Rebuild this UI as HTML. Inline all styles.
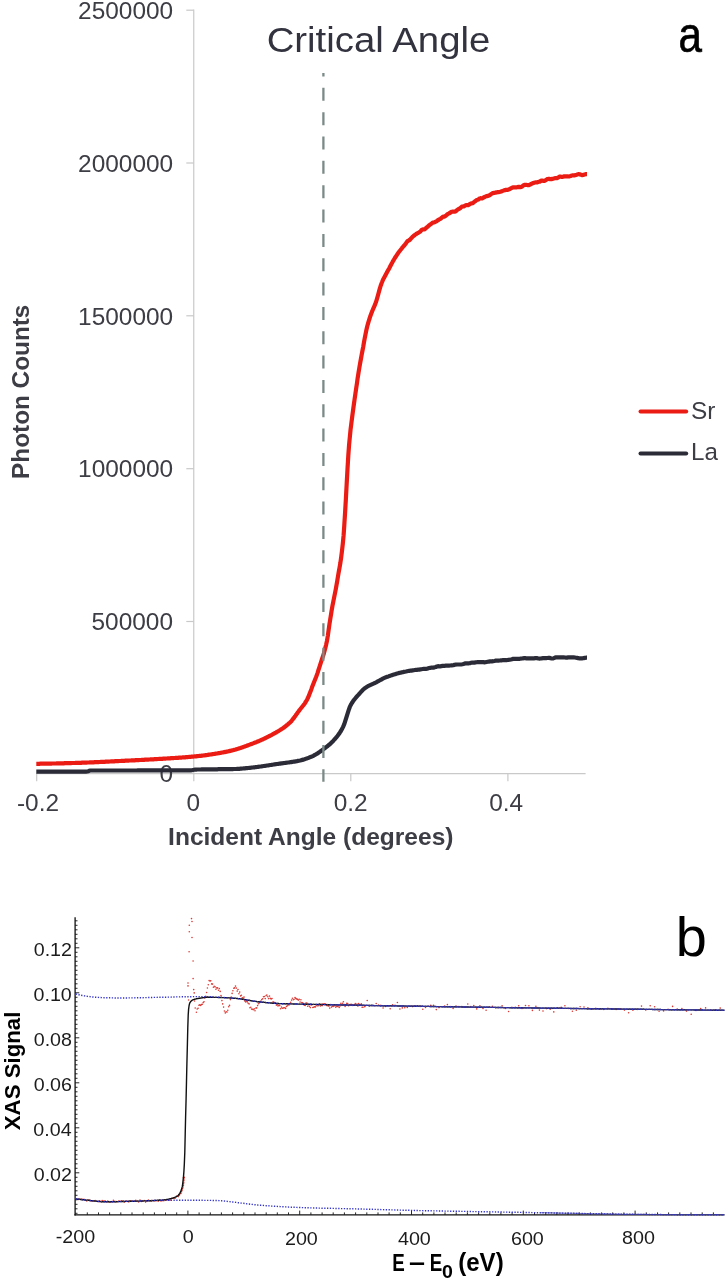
<!DOCTYPE html>
<html lang="en">
<head>
<meta charset="utf-8">
<title>Critical Angle and XAS Signal</title>
<style>
html,body{margin:0;padding:0;background:#fff;}
body{width:728px;height:1280px;overflow:hidden;font-family:"Liberation Sans",sans-serif;}
svg{display:block;}
</style>
</head>
<body>
<svg width="728" height="1280" viewBox="0 0 728 1280">
<rect width="728" height="1280" fill="#fff"/>
<g id="chart-a">
<g stroke="#c9c9c9" stroke-width="1.2" fill="none">
<path d="M193.75 9.6 V773.6"/>
<path d="M36.1 773.6 H585.6"/>
<path d="M186.3 621.5 H193.75"/>
<path d="M186.3 468.7 H193.75"/>
<path d="M186.3 315.8 H193.75"/>
<path d="M186.3 163.0 H193.75"/>
<path d="M186.3 10.2 H193.75"/>
<path d="M36.7 773.6 V781.3"/>
<path d="M193.8 773.6 V781.3"/>
<path d="M350.8 773.6 V781.3"/>
<path d="M507.9 773.6 V781.3"/>
</g>
<g font-family="Liberation Sans, sans-serif">
<text transform="translate(159.40 782.21) scale(1.0260 1)" font-size="23.80" fill="#3d3d45">0</text>
<text transform="translate(91.51 630.19) scale(1.0260 1)" font-size="23.80" fill="#3d3d45">500000</text>
<text transform="translate(78.08 477.37) scale(1.0260 1)" font-size="23.80" fill="#3d3d45">1000000</text>
<text transform="translate(78.08 324.55) scale(1.0260 1)" font-size="23.80" fill="#3d3d45">1500000</text>
<text transform="translate(78.08 171.73) scale(1.0260 1)" font-size="23.80" fill="#3d3d45">2000000</text>
<text transform="translate(78.08 18.91) scale(1.0260 1)" font-size="23.80" fill="#3d3d45">2500000</text>
<text transform="translate(16.92 811.16) scale(1.0260 1)" font-size="23.80" fill="#3d3d45">-0.2</text>
<text transform="translate(186.61 811.16) scale(1.0260 1)" font-size="23.80" fill="#3d3d45">0</text>
<text transform="translate(333.66 811.16) scale(1.0260 1)" font-size="23.80" fill="#3d3d45">0.2</text>
<text transform="translate(489.18 811.16) scale(1.0260 1)" font-size="23.80" fill="#3d3d45">0.4</text>
</g>
<path d="M36.3 771.7 L37.4 771.7 L38.5 771.7 L39.6 771.7 L40.7 771.7 L41.8 771.7 L42.9 771.7 L44.0 771.7 L45.1 771.7 L46.2 771.7 L47.3 771.7 L48.4 771.7 L49.5 771.7 L50.6 771.7 L51.8 771.7 L52.9 771.7 L54.0 771.7 L55.1 771.7 L56.2 771.7 L57.3 771.7 L58.4 771.7 L59.5 771.7 L60.6 771.7 L61.7 771.7 L62.8 771.7 L63.9 771.7 L65.0 771.7 L66.1 771.7 L67.2 771.7 L68.3 771.7 L69.4 771.7 L70.5 771.7 L71.6 771.7 L72.7 771.7 L73.8 771.7 L74.9 771.6 L76.0 771.6 L77.1 771.6 L78.2 771.6 L79.3 771.6 L80.4 771.6 L81.5 771.6 L82.7 771.6 L83.8 771.6 L84.9 771.6 L86.0 771.6 L87.1 771.5 L88.2 771.2 L89.3 770.8 L90.4 770.5 L91.5 770.5 L92.6 770.5 L93.7 770.5 L94.8 770.5 L95.9 770.5 L97.0 770.5 L98.1 770.5 L99.2 770.5 L100.3 770.5 L101.4 770.5 L102.5 770.5 L103.6 770.5 L104.7 770.5 L105.8 770.5 L106.9 770.5 L108.0 770.5 L109.1 770.5 L110.2 770.5 L111.3 770.5 L112.4 770.5 L113.6 770.5 L114.7 770.5 L115.8 770.5 L116.9 770.5 L118.0 770.5 L119.1 770.5 L120.2 770.5 L121.3 770.5 L122.4 770.5 L123.5 770.5 L124.6 770.5 L125.7 770.5 L126.8 770.5 L127.9 770.5 L129.0 770.5 L130.1 770.5 L131.2 770.5 L132.3 770.5 L133.4 770.5 L134.5 770.5 L135.6 770.5 L136.7 770.5 L137.8 770.4 L138.9 770.4 L140.0 770.4 L141.1 770.4 L142.2 770.4 L143.3 770.4 L144.5 770.4 L145.6 770.4 L146.7 770.4 L147.8 770.4 L148.9 770.4 L150.0 770.4 L151.1 770.4 L152.2 770.4 L153.3 770.4 L154.4 770.4 L155.5 770.4 L156.6 770.4 L157.7 770.4 L158.8 770.4 L159.9 770.4 L161.0 770.4 L162.1 770.4 L163.2 770.4 L164.3 770.4 L165.4 770.4 L166.5 770.4 L167.6 770.4 L168.7 770.4 L169.8 770.4 L170.9 770.4 L172.0 770.4 L173.1 770.4 L174.3 770.4 L175.4 770.4 L176.5 770.4 L177.6 770.4 L178.7 770.4 L179.8 770.4 L180.9 770.4 L182.0 770.4 L183.1 770.4 L184.2 770.4 L185.3 770.4 L186.4 770.4 L187.5 770.4 L188.6 770.4 L189.7 770.4 L190.8 770.4 L191.9 770.2 L193.0 770.0 L194.1 769.8 L195.2 769.6 L196.3 769.6 L197.4 769.5 L198.5 769.5 L199.6 769.5 L200.7 769.5 L201.8 769.4 L202.9 769.4 L204.0 769.4 L205.2 769.4 L206.3 769.4 L207.4 769.3 L208.5 769.3 L209.6 769.3 L210.7 769.3 L211.8 769.3 L212.9 769.3 L214.0 769.3 L215.1 769.3 L216.2 769.3 L217.3 769.3 L218.4 769.2 L219.5 769.2 L220.6 769.2 L221.7 769.2 L222.8 769.2 L223.9 769.2 L225.0 769.2 L226.1 769.2 L227.2 769.2 L228.3 769.1 L229.4 769.1 L230.5 769.1 L231.6 769.1 L232.7 769.1 L233.8 769.0 L234.9 769.0 L236.1 769.0 L237.2 768.9 L238.3 768.9 L239.4 768.8 L240.5 768.7 L241.6 768.6 L242.7 768.5 L243.8 768.4 L244.9 768.3 L246.0 768.2 L247.1 768.1 L248.2 768.0 L249.3 767.9 L250.4 767.8 L251.5 767.6 L252.6 767.5 L253.7 767.4 L254.8 767.3 L255.9 767.1 L257.0 767.0 L258.1 766.8 L259.2 766.7 L260.3 766.5 L261.4 766.4 L262.5 766.2 L263.6 766.0 L264.7 765.9 L265.9 765.7 L267.0 765.5 L268.1 765.4 L269.2 765.2 L270.3 765.0 L271.4 764.9 L272.5 764.7 L273.6 764.5 L274.7 764.3 L275.8 764.2 L276.9 764.0 L278.0 763.9 L279.1 763.7 L280.2 763.6 L281.3 763.4 L282.4 763.3 L283.5 763.1 L284.6 763.0 L285.7 762.8 L286.8 762.7 L287.9 762.5 L289.0 762.4 L290.1 762.2 L291.2 762.1 L292.3 761.9 L293.4 761.7 L294.5 761.6 L295.6 761.4 L296.8 761.2 L297.9 760.9 L299.0 760.7 L300.1 760.5 L301.2 760.2 L302.3 759.9 L303.4 759.6 L304.5 759.3 L305.6 758.9 L306.7 758.5 L307.8 758.1 L308.9 757.7 L310.0 757.2 L311.1 756.8 L312.2 756.3 L313.3 755.8 L314.4 755.2 L315.5 754.6 L316.6 753.9 L317.7 753.3 L318.8 752.5 L319.9 751.8 L321.0 751.0 L322.1 750.2 L323.2 749.4 L324.3 748.6 L325.4 747.7 L326.5 746.9 L327.7 746.0 L328.8 745.0 L329.9 744.1 L331.0 743.1 L332.1 742.0 L333.2 740.9 L334.3 739.7 L335.4 738.5 L336.5 737.2 L337.6 735.8 L338.7 734.3 L339.8 732.7 L340.9 731.0 L342.0 729.0 L343.1 726.9 L344.2 724.3 L345.3 720.9 L346.4 717.3 L347.5 713.9 L348.6 710.4 L349.7 707.2 L350.8 704.9 L351.9 703.0 L353.0 701.3 L354.1 699.8 L355.2 698.5 L356.3 697.2 L357.4 695.9 L358.6 694.6 L359.7 693.3 L360.8 692.1 L361.9 690.9 L363.0 689.8 L364.1 688.8 L365.2 687.9 L366.3 687.2 L367.4 686.5 L368.5 685.9 L369.6 685.4 L370.7 684.9 L371.8 684.4 L372.9 683.9 L374.0 683.4 L375.1 682.8 L376.2 682.3 L377.3 681.7 L378.4 681.1 L379.5 680.5 L380.6 679.9 L381.7 679.3 L382.8 678.7 L383.9 678.2 L385.0 677.7 L386.1 677.2 L387.2 676.8 L388.4 676.4 L389.5 676.0 L390.6 675.6 L391.7 675.2 L392.8 674.9 L393.9 674.5 L395.0 674.2 L396.1 673.9 L397.2 673.5 L398.3 673.2 L399.4 672.9 L400.5 672.7 L401.6 672.4 L402.7 672.2 L403.8 671.9 L404.9 671.7 L406.0 671.5 L407.1 671.2 L408.2 671.0 L409.3 670.8 L410.4 670.7 L411.5 670.6 L412.6 670.4 L413.7 670.2 L414.8 670.0 L415.9 669.9 L417.0 669.8 L418.1 669.7 L419.3 669.6 L420.4 669.4 L421.5 669.2 L422.6 669.0 L423.7 668.9 L424.8 668.9 L425.9 668.9 L427.0 668.7 L428.1 668.4 L429.2 668.0 L430.3 667.8 L431.4 667.7 L432.5 667.7 L433.6 667.6 L434.7 667.3 L435.8 667.0 L436.9 666.5 L438.0 666.2 L439.1 666.3 L440.2 666.3 L441.3 666.2 L442.4 665.9 L443.5 665.8 L444.6 665.8 L445.7 665.7 L446.8 665.6 L447.9 665.6 L449.0 665.6 L450.2 665.5 L451.3 665.4 L452.4 665.3 L453.5 665.1 L454.6 664.8 L455.7 664.6 L456.8 664.5 L457.9 664.5 L459.0 664.5 L460.1 664.5 L461.2 664.5 L462.3 664.3 L463.4 664.0 L464.5 663.6 L465.6 663.3 L466.7 663.3 L467.8 663.4 L468.9 663.3 L470.0 663.1 L471.1 662.8 L472.2 662.6 L473.3 662.6 L474.4 662.6 L475.5 662.4 L476.6 662.2 L477.7 662.0 L478.8 662.1 L480.0 662.2 L481.1 662.2 L482.2 662.2 L483.3 662.2 L484.4 662.3 L485.5 662.2 L486.6 662.0 L487.7 661.8 L488.8 661.6 L489.9 661.4 L491.0 661.3 L492.1 661.3 L493.2 661.2 L494.3 661.0 L495.4 660.7 L496.5 660.6 L497.6 660.6 L498.7 660.6 L499.8 660.5 L500.9 660.4 L502.0 660.3 L503.1 660.1 L504.2 660.1 L505.3 660.2 L506.4 660.2 L507.5 660.0 L508.6 659.8 L509.7 659.7 L510.9 659.5 L512.0 659.2 L513.1 658.9 L514.2 658.8 L515.3 658.8 L516.4 658.9 L517.5 658.9 L518.6 658.9 L519.7 658.8 L520.8 658.6 L521.9 658.5 L523.0 658.3 L524.1 658.2 L525.2 658.2 L526.3 658.3 L527.4 658.3 L528.5 658.3 L529.6 658.3 L530.7 658.4 L531.8 658.4 L532.9 658.4 L534.0 658.3 L535.1 658.2 L536.2 658.1 L537.3 658.2 L538.4 658.5 L539.5 658.6 L540.6 658.5 L541.8 658.3 L542.9 658.2 L544.0 658.2 L545.1 658.2 L546.2 658.1 L547.3 658.0 L548.4 657.9 L549.5 657.9 L550.6 658.2 L551.7 658.5 L552.8 658.5 L553.9 658.1 L555.0 657.6 L556.1 657.3 L557.2 657.3 L558.3 657.4 L559.4 657.4 L560.5 657.4 L561.6 657.3 L562.7 657.3 L563.8 657.4 L564.9 657.5 L566.0 657.6 L567.1 657.6 L568.2 657.4 L569.3 657.3 L570.4 657.3 L571.5 657.4 L572.7 657.3 L573.8 657.4 L574.9 657.5 L576.0 657.7 L577.1 657.9 L578.2 658.2 L579.3 658.3 L580.4 658.4 L581.5 658.3 L582.6 658.3 L583.7 658.1 L584.8 657.9 L585.9 657.7 L587.0 657.7" fill="none" stroke="#2b2b38" stroke-width="4.2" stroke-linejoin="round" stroke-linecap="butt"/>
<path d="M36.3 763.8 L37.1 763.8 L37.9 763.8 L38.7 763.8 L39.5 763.8 L40.2 763.7 L41.0 763.7 L41.8 763.7 L42.6 763.7 L43.4 763.7 L44.2 763.7 L45.0 763.7 L45.8 763.7 L46.5 763.6 L47.3 763.6 L48.1 763.6 L48.9 763.6 L49.7 763.6 L50.5 763.6 L51.3 763.6 L52.1 763.5 L52.8 763.5 L53.6 763.5 L54.4 763.5 L55.2 763.5 L56.0 763.5 L56.8 763.4 L57.6 763.4 L58.4 763.4 L59.1 763.4 L59.9 763.4 L60.7 763.3 L61.5 763.3 L62.3 763.3 L63.1 763.3 L63.9 763.3 L64.7 763.2 L65.5 763.2 L66.2 763.2 L67.0 763.2 L67.8 763.2 L68.6 763.1 L69.4 763.1 L70.2 763.1 L71.0 763.1 L71.8 763.0 L72.5 763.0 L73.3 763.0 L74.1 763.0 L74.9 763.0 L75.7 762.9 L76.5 762.9 L77.3 762.9 L78.1 762.9 L78.8 762.8 L79.6 762.8 L80.4 762.8 L81.2 762.8 L82.0 762.7 L82.8 762.7 L83.6 762.7 L84.4 762.7 L85.1 762.6 L85.9 762.6 L86.7 762.6 L87.5 762.5 L88.3 762.5 L89.1 762.5 L89.9 762.4 L90.7 762.4 L91.4 762.4 L92.2 762.3 L93.0 762.3 L93.8 762.3 L94.6 762.2 L95.4 762.2 L96.2 762.2 L97.0 762.1 L97.8 762.1 L98.5 762.1 L99.3 762.0 L100.1 762.0 L100.9 761.9 L101.7 761.9 L102.5 761.9 L103.3 761.8 L104.1 761.8 L104.8 761.8 L105.6 761.7 L106.4 761.7 L107.2 761.6 L108.0 761.6 L108.8 761.6 L109.6 761.5 L110.4 761.5 L111.1 761.4 L111.9 761.4 L112.7 761.4 L113.5 761.3 L114.3 761.3 L115.1 761.2 L115.9 761.2 L116.7 761.2 L117.4 761.1 L118.2 761.1 L119.0 761.0 L119.8 761.0 L120.6 761.0 L121.4 760.9 L122.2 760.9 L123.0 760.9 L123.8 760.8 L124.5 760.8 L125.3 760.7 L126.1 760.7 L126.9 760.7 L127.7 760.6 L128.5 760.6 L129.3 760.5 L130.1 760.5 L130.8 760.5 L131.6 760.4 L132.4 760.4 L133.2 760.4 L134.0 760.3 L134.8 760.3 L135.6 760.2 L136.4 760.2 L137.1 760.2 L137.9 760.1 L138.7 760.1 L139.5 760.0 L140.3 760.0 L141.1 760.0 L141.9 759.9 L142.7 759.9 L143.4 759.8 L144.2 759.8 L145.0 759.7 L145.8 759.7 L146.6 759.7 L147.4 759.6 L148.2 759.6 L149.0 759.5 L149.7 759.5 L150.5 759.4 L151.3 759.4 L152.1 759.4 L152.9 759.3 L153.7 759.3 L154.5 759.2 L155.3 759.2 L156.1 759.1 L156.8 759.1 L157.6 759.0 L158.4 759.0 L159.2 758.9 L160.0 758.9 L160.8 758.9 L161.6 758.8 L162.4 758.8 L163.1 758.7 L163.9 758.7 L164.7 758.6 L165.5 758.6 L166.3 758.5 L167.1 758.5 L167.9 758.4 L168.7 758.4 L169.4 758.3 L170.2 758.3 L171.0 758.2 L171.8 758.2 L172.6 758.1 L173.4 758.1 L174.2 758.0 L175.0 758.0 L175.7 757.9 L176.5 757.9 L177.3 757.8 L178.1 757.8 L178.9 757.7 L179.7 757.7 L180.5 757.6 L181.3 757.6 L182.1 757.5 L182.8 757.4 L183.6 757.4 L184.4 757.3 L185.2 757.3 L186.0 757.2 L186.8 757.1 L187.6 757.1 L188.4 757.0 L189.1 756.9 L189.9 756.9 L190.7 756.8 L191.5 756.7 L192.3 756.7 L193.1 756.6 L193.9 756.5 L194.7 756.4 L195.4 756.4 L196.2 756.3 L197.0 756.2 L197.8 756.1 L198.6 756.0 L199.4 755.9 L200.2 755.8 L201.0 755.8 L201.7 755.7 L202.5 755.6 L203.3 755.5 L204.1 755.4 L204.9 755.3 L205.7 755.2 L206.5 755.1 L207.3 755.0 L208.0 754.8 L208.8 754.7 L209.6 754.6 L210.4 754.5 L211.2 754.4 L212.0 754.3 L212.8 754.1 L213.6 754.0 L214.4 753.9 L215.1 753.8 L215.9 753.6 L216.7 753.5 L217.5 753.4 L218.3 753.2 L219.1 753.1 L219.9 753.0 L220.7 752.8 L221.4 752.7 L222.2 752.5 L223.0 752.4 L223.8 752.2 L224.6 752.1 L225.4 751.9 L226.2 751.8 L227.0 751.6 L227.7 751.5 L228.5 751.3 L229.3 751.1 L230.1 750.9 L230.9 750.7 L231.7 750.6 L232.5 750.3 L233.3 750.1 L234.0 749.9 L234.8 749.7 L235.6 749.5 L236.4 749.2 L237.2 749.0 L238.0 748.8 L238.8 748.5 L239.6 748.2 L240.4 748.0 L241.1 747.7 L241.9 747.5 L242.7 747.2 L243.5 746.9 L244.3 746.6 L245.1 746.4 L245.9 746.1 L246.7 745.8 L247.4 745.5 L248.2 745.2 L249.0 744.9 L249.8 744.6 L250.6 744.3 L251.4 744.0 L252.2 743.7 L253.0 743.4 L253.7 743.1 L254.5 742.8 L255.3 742.5 L256.1 742.2 L256.9 741.9 L257.7 741.5 L258.5 741.2 L259.3 740.9 L260.0 740.5 L260.8 740.2 L261.6 739.8 L262.4 739.5 L263.2 739.1 L264.0 738.8 L264.8 738.4 L265.6 738.0 L266.3 737.6 L267.1 737.2 L267.9 736.8 L268.7 736.4 L269.5 736.0 L270.3 735.6 L271.1 735.2 L271.9 734.8 L272.7 734.3 L273.4 733.9 L274.2 733.5 L275.0 733.0 L275.8 732.6 L276.6 732.1 L277.4 731.7 L278.2 731.2 L279.0 730.7 L279.7 730.3 L280.5 729.8 L281.3 729.2 L282.1 728.7 L282.9 728.2 L283.7 727.6 L284.5 727.1 L285.3 726.5 L286.0 725.9 L286.8 725.2 L287.6 724.6 L288.4 723.9 L289.2 723.2 L290.0 722.5 L290.8 721.7 L291.6 720.9 L292.3 719.9 L293.1 718.9 L293.9 717.9 L294.7 716.8 L295.5 715.7 L296.3 714.5 L297.1 713.4 L297.9 712.3 L298.7 711.3 L299.4 710.3 L300.2 709.3 L301.0 708.3 L301.8 707.3 L302.6 706.3 L303.4 705.3 L304.2 704.3 L305.0 703.1 L305.7 701.9 L306.5 700.6 L307.3 699.2 L308.1 697.5 L308.9 695.7 L309.7 693.6 L310.5 691.5 L311.3 689.4 L312.0 687.3 L312.8 685.3 L313.6 683.3 L314.4 681.3 L315.2 679.3 L316.0 677.3 L316.8 675.1 L317.6 672.9 L318.3 670.5 L319.1 668.1 L319.9 665.6 L320.7 663.1 L321.5 660.6 L322.3 658.2 L323.1 655.8 L323.9 653.3 L324.6 650.6 L325.4 647.6 L326.2 644.4 L327.0 640.7 L327.8 636.0 L328.6 630.2 L329.4 624.5 L330.2 619.5 L331.0 614.7 L331.7 610.1 L332.5 605.7 L333.3 601.6 L334.1 597.6 L334.9 593.7 L335.7 589.6 L336.5 585.2 L337.3 580.7 L338.0 576.2 L338.8 571.7 L339.6 567.3 L340.4 562.7 L341.2 557.1 L342.0 550.8 L342.8 543.7 L343.6 535.4 L344.3 525.2 L345.1 512.4 L345.9 498.6 L346.7 483.5 L347.5 469.2 L348.3 455.7 L349.1 444.7 L349.9 436.4 L350.6 429.3 L351.4 422.9 L352.2 416.8 L353.0 410.8 L353.8 404.9 L354.6 399.2 L355.4 393.7 L356.2 388.3 L357.0 383.0 L357.7 377.8 L358.5 372.8 L359.3 368.0 L360.1 363.4 L360.9 359.0 L361.7 354.7 L362.5 350.5 L363.3 346.4 L364.0 342.2 L364.8 337.9 L365.6 333.8 L366.4 329.9 L367.2 326.5 L368.0 323.6 L368.8 320.9 L369.6 318.5 L370.3 316.2 L371.1 314.0 L371.9 311.9 L372.7 310.0 L373.5 308.1 L374.3 306.3 L375.1 304.4 L375.9 302.3 L376.6 300.1 L377.4 297.4 L378.2 294.5 L379.0 291.5 L379.8 288.6 L380.6 286.0 L381.4 283.7 L382.2 281.8 L382.9 280.0 L383.7 278.4 L384.5 276.9 L385.3 275.4 L386.1 273.9 L386.9 272.4 L387.7 271.0 L388.5 269.6 L389.3 268.2 L390.0 266.8 L390.8 265.2 L391.6 263.7 L392.4 262.3 L393.2 260.8 L394.0 259.5 L394.8 258.2 L395.6 256.9 L396.3 255.8 L397.1 254.6 L397.9 253.4 L398.7 252.3 L399.5 251.3 L400.3 250.3 L401.1 249.3 L401.9 248.3 L402.6 247.3 L403.4 246.4 L404.2 245.5 L405.0 244.6 L405.8 243.5 L406.6 242.3 L407.4 241.3 L408.2 240.7 L408.9 240.4 L409.7 239.9 L410.5 239.1 L411.3 238.2 L412.1 237.3 L412.9 236.5 L413.7 235.8 L414.5 235.2 L415.3 234.6 L416.0 234.1 L416.8 233.6 L417.6 233.2 L418.4 232.7 L419.2 232.2 L420.0 231.7 L420.8 230.9 L421.6 230.0 L422.3 229.5 L423.1 229.4 L423.9 229.4 L424.7 229.2 L425.5 228.6 L426.3 227.8 L427.1 227.1 L427.9 226.5 L428.6 225.9 L429.4 225.1 L430.2 224.5 L431.0 224.0 L431.8 223.4 L432.6 222.8 L433.4 222.5 L434.2 222.4 L434.9 222.1 L435.7 221.7 L436.5 221.2 L437.3 220.6 L438.1 220.1 L438.9 219.6 L439.7 219.2 L440.5 218.8 L441.2 218.3 L442.0 217.5 L442.8 216.8 L443.6 216.6 L444.4 216.6 L445.2 216.2 L446.0 215.5 L446.8 214.8 L447.6 214.1 L448.3 213.7 L449.1 213.4 L449.9 212.9 L450.7 212.4 L451.5 211.9 L452.3 211.7 L453.1 211.7 L453.9 211.7 L454.6 211.6 L455.4 211.4 L456.2 210.9 L457.0 210.2 L457.8 209.5 L458.6 209.0 L459.4 208.7 L460.2 208.2 L460.9 207.5 L461.7 206.8 L462.5 206.5 L463.3 206.4 L464.1 206.3 L464.9 205.8 L465.7 205.3 L466.5 205.1 L467.2 205.1 L468.0 205.2 L468.8 204.9 L469.6 204.3 L470.4 203.7 L471.2 203.4 L472.0 203.3 L472.8 203.1 L473.6 202.5 L474.3 201.9 L475.1 201.3 L475.9 200.6 L476.7 200.0 L477.5 199.8 L478.3 199.5 L479.1 198.9 L479.9 198.4 L480.6 198.2 L481.4 198.3 L482.2 198.3 L483.0 197.9 L483.8 197.4 L484.6 197.0 L485.4 196.6 L486.2 196.3 L486.9 196.1 L487.7 195.9 L488.5 195.7 L489.3 195.4 L490.1 194.9 L490.9 194.3 L491.7 193.8 L492.5 193.3 L493.2 193.0 L494.0 192.9 L494.8 192.8 L495.6 192.6 L496.4 192.4 L497.2 192.3 L498.0 192.1 L498.8 192.1 L499.5 192.0 L500.3 191.8 L501.1 191.5 L501.9 191.2 L502.7 190.9 L503.5 190.6 L504.3 190.3 L505.1 190.1 L505.9 189.9 L506.6 189.8 L507.4 189.8 L508.2 189.7 L509.0 189.4 L509.8 189.0 L510.6 188.5 L511.4 188.1 L512.2 187.7 L512.9 187.4 L513.7 187.3 L514.5 187.3 L515.3 187.4 L516.1 187.5 L516.9 187.3 L517.7 187.1 L518.5 186.9 L519.2 186.9 L520.0 187.1 L520.8 187.1 L521.6 186.8 L522.4 186.2 L523.2 185.5 L524.0 185.1 L524.8 184.9 L525.5 184.9 L526.3 184.9 L527.1 185.0 L527.9 185.2 L528.7 185.2 L529.5 184.9 L530.3 184.5 L531.1 184.0 L531.9 183.6 L532.6 183.3 L533.4 183.0 L534.2 182.7 L535.0 182.5 L535.8 182.4 L536.6 182.4 L537.4 182.3 L538.2 182.0 L538.9 181.8 L539.7 181.6 L540.5 181.1 L541.3 180.6 L542.1 180.6 L542.9 180.8 L543.7 180.9 L544.5 180.8 L545.2 180.5 L546.0 180.0 L546.8 179.4 L547.6 179.0 L548.4 178.9 L549.2 178.9 L550.0 179.1 L550.8 179.2 L551.5 179.1 L552.3 178.9 L553.1 178.7 L553.9 178.5 L554.7 178.3 L555.5 178.1 L556.3 178.1 L557.1 178.1 L557.8 177.8 L558.6 177.3 L559.4 176.7 L560.2 176.6 L561.0 176.8 L561.8 177.0 L562.6 176.9 L563.4 176.6 L564.2 176.4 L564.9 176.4 L565.7 176.3 L566.5 176.3 L567.3 176.3 L568.1 176.5 L568.9 176.5 L569.7 176.2 L570.5 176.0 L571.2 175.7 L572.0 175.5 L572.8 175.3 L573.6 175.3 L574.4 175.3 L575.2 175.2 L576.0 175.0 L576.8 174.8 L577.5 174.4 L578.3 174.1 L579.1 174.2 L579.9 174.4 L580.7 174.6 L581.5 174.9 L582.3 175.1 L583.1 175.0 L583.8 174.8 L584.6 174.5 L585.4 174.3 L586.2 174.1 L587.0 174.1" fill="none" stroke="#ea1c14" stroke-width="4.2" stroke-linejoin="round" stroke-linecap="butt"/>
<path d="M323.4 73 V781.7" fill="none" stroke="#7b8a87" stroke-width="2.3" stroke-dasharray="13 11.34" stroke-dashoffset="9.5"/>
<g font-family="Liberation Sans, sans-serif">
<text transform="translate(266.68 51.88) scale(1.0852 1)" font-size="35.32" fill="#33333f">Critical Angle</text>
<text transform="translate(678.52 52.30) scale(0.8393 1)" font-size="50.18" fill="#000" stroke="#000" stroke-width="0.7">a</text>
<text transform="translate(691.08 418.67) scale(1.0440 1)" font-size="23.38" fill="#3d3d45">Sr</text>
<text transform="translate(691.07 460.27) scale(1.0382 1)" font-size="23.29" fill="#3d3d45">La</text>
<text transform="translate(28.66 478.90) rotate(-90) scale(1.0007 1)" font-size="24.32" font-weight="700" fill="#3d3d45">Photon Counts</text>
<text transform="translate(168.08 845.39) scale(1.0491 1)" font-size="23.40" font-weight="700" fill="#3d3d45">Incident Angle (degrees)</text>
</g>
<path d="M640.5 411.5 H686.2" stroke="#ea1c14" stroke-width="4" stroke-linecap="round"/>
<path d="M640.5 453.5 H686.2" stroke="#2b2b38" stroke-width="4" stroke-linecap="round"/>
</g>
<g id="chart-b">
<g stroke="#111" stroke-width="1.1" fill="none">
<path d="M75.1 917.3 V1215.45" stroke-width="1.3"/>
<path d="M74.39999999999999 1214.8 H724.5" stroke-width="1.3"/>
<path d="M75.1 1213.3 h2.4 M75.1 1208.8 h2.4 M75.1 1204.3 h2.4 M75.1 1199.8 h2.4 M75.1 1195.3 h2.4 M75.1 1190.8 h2.4 M75.1 1186.3 h2.4 M75.1 1181.8 h2.4 M75.1 1177.3 h2.4 M75.1 1172.8 h4.2 M75.1 1168.3 h2.4 M75.1 1163.8 h2.4 M75.1 1159.3 h2.4 M75.1 1154.8 h2.4 M75.1 1150.3 h2.4 M75.1 1145.8 h2.4 M75.1 1141.3 h2.4 M75.1 1136.8 h2.4 M75.1 1132.3 h2.4 M75.1 1127.8 h4.2 M75.1 1123.3 h2.4 M75.1 1118.8 h2.4 M75.1 1114.3 h2.4 M75.1 1109.8 h2.4 M75.1 1105.3 h2.4 M75.1 1100.8 h2.4 M75.1 1096.3 h2.4 M75.1 1091.8 h2.4 M75.1 1087.3 h2.4 M75.1 1082.8 h4.2 M75.1 1078.3 h2.4 M75.1 1073.8 h2.4 M75.1 1069.3 h2.4 M75.1 1064.8 h2.4 M75.1 1060.3 h2.4 M75.1 1055.8 h2.4 M75.1 1051.3 h2.4 M75.1 1046.8 h2.4 M75.1 1042.3 h2.4 M75.1 1037.8 h4.2 M75.1 1033.3 h2.4 M75.1 1028.8 h2.4 M75.1 1024.3 h2.4 M75.1 1019.8 h2.4 M75.1 1015.3 h2.4 M75.1 1010.8 h2.4 M75.1 1006.3 h2.4 M75.1 1001.8 h2.4 M75.1 997.3 h2.4 M75.1 992.8 h4.2 M75.1 988.3 h2.4 M75.1 983.8 h2.4 M75.1 979.3 h2.4 M75.1 974.8 h2.4 M75.1 970.3 h2.4 M75.1 965.8 h2.4 M75.1 961.3 h2.4 M75.1 956.8 h2.4 M75.1 952.3 h2.4 M75.1 947.8 h4.2 M75.1 943.3 h2.4 M75.1 938.8 h2.4 M75.1 934.3 h2.4 M75.1 929.8 h2.4 M75.1 925.3 h2.4 M75.1 920.8 h2.4" stroke-width="0.9"/>
<path d="M87.3 1214.8 v-2.4 M98.5 1214.8 v-2.4 M109.6 1214.8 v-2.4 M120.8 1214.8 v-2.4 M132.0 1214.8 v-2.4 M143.2 1214.8 v-2.4 M154.4 1214.8 v-2.4 M165.5 1214.8 v-2.4 M176.7 1214.8 v-2.4 M187.9 1214.8 v-4.2 M199.1 1214.8 v-2.4 M210.3 1214.8 v-2.4 M221.4 1214.8 v-2.4 M232.6 1214.8 v-2.4 M243.8 1214.8 v-2.4 M255.0 1214.8 v-2.4 M266.2 1214.8 v-2.4 M277.3 1214.8 v-2.4 M288.5 1214.8 v-2.4 M299.7 1214.8 v-4.2 M310.9 1214.8 v-2.4 M322.1 1214.8 v-2.4 M333.2 1214.8 v-2.4 M344.4 1214.8 v-2.4 M355.6 1214.8 v-2.4 M366.8 1214.8 v-2.4 M378.0 1214.8 v-2.4 M389.1 1214.8 v-2.4 M400.3 1214.8 v-2.4 M411.5 1214.8 v-4.2 M422.7 1214.8 v-2.4 M433.9 1214.8 v-2.4 M445.0 1214.8 v-2.4 M456.2 1214.8 v-2.4 M467.4 1214.8 v-2.4 M478.6 1214.8 v-2.4 M489.8 1214.8 v-2.4 M500.9 1214.8 v-2.4 M512.1 1214.8 v-2.4 M523.3 1214.8 v-4.2 M534.5 1214.8 v-2.4 M545.7 1214.8 v-2.4 M556.8 1214.8 v-2.4 M568.0 1214.8 v-2.4 M579.2 1214.8 v-2.4 M590.4 1214.8 v-2.4 M601.6 1214.8 v-2.4 M612.7 1214.8 v-2.4 M623.9 1214.8 v-2.4 M635.1 1214.8 v-4.2 M646.3 1214.8 v-2.4 M657.5 1214.8 v-2.4 M668.6 1214.8 v-2.4 M679.8 1214.8 v-2.4 M691.0 1214.8 v-2.4 M702.2 1214.8 v-2.4 M713.4 1214.8 v-2.4" stroke-width="0.9"/>
</g>
<g font-family="Liberation Sans, sans-serif">
<text transform="translate(33.71 1181.42) scale(1.0915 1)" font-size="18.03" fill="#1c1c1c">0.02</text>
<text transform="translate(33.32 1136.42) scale(1.0915 1)" font-size="18.03" fill="#1c1c1c">0.04</text>
<text transform="translate(33.71 1091.42) scale(1.0915 1)" font-size="18.03" fill="#1c1c1c">0.06</text>
<text transform="translate(33.71 1046.42) scale(1.0915 1)" font-size="18.03" fill="#1c1c1c">0.08</text>
<text transform="translate(33.52 1001.42) scale(1.0915 1)" font-size="18.03" fill="#1c1c1c">0.10</text>
<text transform="translate(33.71 956.42) scale(1.0915 1)" font-size="18.03" fill="#1c1c1c">0.12</text>
<text transform="translate(55.71 1243.12) scale(1.0949 1)" font-size="18.03" fill="#1c1c1c">-200</text>
<text transform="translate(182.67 1243.12) scale(1.0949 1)" font-size="18.03" fill="#1c1c1c">0</text>
<text transform="translate(284.92 1245.22) scale(1.0949 1)" font-size="18.03" fill="#1c1c1c">200</text>
<text transform="translate(397.91 1244.82) scale(1.0949 1)" font-size="18.03" fill="#1c1c1c">400</text>
<text transform="translate(510.92 1244.82) scale(1.0949 1)" font-size="18.03" fill="#1c1c1c">600</text>
<text transform="translate(622.12 1243.92) scale(1.0949 1)" font-size="18.03" fill="#1c1c1c">800</text>
<text transform="translate(20.26 1130.22) rotate(-90) scale(1.0302 1)" font-size="21.60" font-weight="700" fill="#000">XAS Signal</text>
<text transform="translate(392.19 1271.20) scale(0.7701 1)" font-size="24.35" font-weight="700" fill="#000">E</text>
<text transform="translate(408.94 1271.02) scale(1.1077 1)" font-size="26.00" font-weight="700" fill="#000">–</text>
<text transform="translate(429.69 1271.20) scale(0.7701 1)" font-size="24.35" font-weight="700" fill="#000">E</text>
<text transform="translate(442.12 1278.11) scale(1.0450 1)" font-size="18.73" font-weight="700" fill="#000">0</text>
<text transform="translate(458.20 1271.00) scale(0.9201 1)" font-size="26.17" font-weight="700" fill="#000">(eV)</text>
<text transform="translate(675.69 956.20) scale(1.0003 1)" font-size="55.89" fill="#000">b</text>
</g>
<g fill="#dd3b35">
<circle cx="77.0" cy="1199.1" r="0.8"/><circle cx="78.4" cy="1199.4" r="0.8"/><circle cx="79.8" cy="1199.2" r="0.8"/><circle cx="81.2" cy="1199.0" r="0.8"/><circle cx="82.6" cy="1199.4" r="0.8"/><circle cx="84.0" cy="1199.3" r="0.8"/><circle cx="85.4" cy="1200.1" r="0.8"/><circle cx="86.8" cy="1201.0" r="0.8"/><circle cx="88.2" cy="1200.0" r="0.8"/><circle cx="89.6" cy="1200.1" r="0.8"/><circle cx="91.0" cy="1200.9" r="0.8"/><circle cx="92.4" cy="1201.0" r="0.8"/><circle cx="93.8" cy="1201.0" r="0.8"/><circle cx="95.2" cy="1200.5" r="0.8"/><circle cx="96.6" cy="1201.2" r="0.8"/><circle cx="98.0" cy="1201.8" r="0.8"/><circle cx="99.4" cy="1200.7" r="0.8"/><circle cx="100.8" cy="1201.4" r="0.8"/><circle cx="102.2" cy="1200.6" r="0.8"/><circle cx="103.6" cy="1201.0" r="0.8"/><circle cx="105.0" cy="1200.7" r="0.8"/><circle cx="106.4" cy="1201.7" r="0.8"/><circle cx="107.8" cy="1201.0" r="0.8"/><circle cx="109.2" cy="1201.9" r="0.8"/><circle cx="110.6" cy="1201.9" r="0.8"/><circle cx="112.0" cy="1201.6" r="0.8"/><circle cx="113.4" cy="1200.2" r="0.8"/><circle cx="114.8" cy="1201.4" r="0.8"/><circle cx="116.2" cy="1201.6" r="0.8"/><circle cx="117.6" cy="1201.7" r="0.8"/><circle cx="119.0" cy="1200.7" r="0.8"/><circle cx="120.4" cy="1201.3" r="0.8"/><circle cx="121.8" cy="1200.9" r="0.8"/><circle cx="123.2" cy="1201.0" r="0.8"/><circle cx="124.6" cy="1202.1" r="0.8"/><circle cx="126.0" cy="1200.9" r="0.8"/><circle cx="127.4" cy="1201.4" r="0.8"/><circle cx="128.8" cy="1201.9" r="0.8"/><circle cx="130.2" cy="1200.9" r="0.8"/><circle cx="131.6" cy="1201.2" r="0.8"/><circle cx="133.0" cy="1201.3" r="0.8"/><circle cx="134.4" cy="1201.2" r="0.8"/><circle cx="135.8" cy="1200.4" r="0.8"/><circle cx="137.2" cy="1201.2" r="0.8"/><circle cx="138.6" cy="1201.9" r="0.8"/><circle cx="140.0" cy="1200.1" r="0.8"/><circle cx="141.4" cy="1201.5" r="0.8"/><circle cx="142.8" cy="1201.0" r="0.8"/><circle cx="144.2" cy="1200.5" r="0.8"/><circle cx="145.6" cy="1202.1" r="0.8"/><circle cx="147.0" cy="1201.3" r="0.8"/><circle cx="148.4" cy="1200.1" r="0.8"/><circle cx="149.8" cy="1200.8" r="0.8"/><circle cx="151.2" cy="1201.0" r="0.8"/><circle cx="152.6" cy="1200.5" r="0.8"/><circle cx="154.0" cy="1201.0" r="0.8"/><circle cx="155.4" cy="1200.4" r="0.8"/><circle cx="156.8" cy="1200.8" r="0.8"/><circle cx="158.2" cy="1201.2" r="0.8"/><circle cx="159.6" cy="1199.8" r="0.8"/><circle cx="161.0" cy="1201.1" r="0.8"/><circle cx="162.4" cy="1200.6" r="0.8"/><circle cx="163.8" cy="1200.8" r="0.8"/><circle cx="165.2" cy="1199.8" r="0.8"/><circle cx="166.6" cy="1200.0" r="0.8"/><circle cx="168.0" cy="1200.0" r="0.8"/><circle cx="169.4" cy="1200.3" r="0.8"/><circle cx="170.8" cy="1200.1" r="0.8"/><circle cx="172.2" cy="1198.3" r="0.8"/><circle cx="173.6" cy="1198.1" r="0.8"/><circle cx="175.0" cy="1198.5" r="0.8"/><circle cx="176.4" cy="1196.2" r="0.8"/><circle cx="177.8" cy="1196.2" r="0.8"/><circle cx="179.2" cy="1194.9" r="0.8"/><circle cx="180.6" cy="1193.4" r="0.8"/><circle cx="182.0" cy="1188.8" r="0.8"/><circle cx="183.4" cy="1177.8" r="0.8"/><circle cx="191.5" cy="918.6" r="0.8"/><circle cx="192.0" cy="921.5" r="0.8"/><circle cx="189.3" cy="925.2" r="0.8"/><circle cx="189.3" cy="931.8" r="0.8"/><circle cx="192.0" cy="937.5" r="0.8"/><circle cx="189.1" cy="951.8" r="0.8"/><circle cx="193.1" cy="961.0" r="0.8"/><circle cx="193.1" cy="978.6" r="0.8"/><circle cx="188.0" cy="983.0" r="0.8"/><circle cx="188.0" cy="985.9" r="0.8"/><circle cx="193.7" cy="989.6" r="0.8"/><circle cx="194.2" cy="992.9" r="0.8"/><circle cx="188.6" cy="1000.0" r="0.8"/><circle cx="194.6" cy="1001.0" r="0.8"/><circle cx="195.2" cy="1008.0" r="0.8"/><circle cx="178.3" cy="1196.6" r="0.8"/><circle cx="179.5" cy="1195.0" r="0.8"/><circle cx="180.8" cy="1193.4" r="0.8"/><circle cx="181.6" cy="1191.8" r="0.8"/><circle cx="182.1" cy="1190.2" r="0.8"/><circle cx="182.6" cy="1188.6" r="0.8"/><circle cx="183.1" cy="1187.0" r="0.8"/><circle cx="183.4" cy="1185.4" r="0.8"/><circle cx="183.6" cy="1183.8" r="0.8"/><circle cx="183.8" cy="1182.2" r="0.8"/><circle cx="183.9" cy="1180.6" r="0.8"/><circle cx="184.1" cy="1179.0" r="0.8"/><circle cx="184.3" cy="1177.4" r="0.8"/><circle cx="196.4" cy="1012.3" r="0.8"/><circle cx="197.2" cy="1009.0" r="0.8"/><circle cx="198.1" cy="1008.3" r="0.8"/><circle cx="198.9" cy="1005.2" r="0.8"/><circle cx="199.8" cy="1004.9" r="0.8"/><circle cx="200.6" cy="1005.4" r="0.8"/><circle cx="201.5" cy="1004.6" r="0.8"/><circle cx="202.3" cy="1004.2" r="0.8"/><circle cx="203.2" cy="1002.6" r="0.8"/><circle cx="204.0" cy="1001.7" r="0.8"/><circle cx="204.9" cy="998.0" r="0.8"/><circle cx="205.7" cy="996.3" r="0.8"/><circle cx="206.6" cy="992.5" r="0.8"/><circle cx="207.4" cy="988.0" r="0.8"/><circle cx="208.3" cy="984.8" r="0.8"/><circle cx="209.1" cy="980.6" r="0.8"/><circle cx="210.0" cy="980.9" r="0.8"/><circle cx="210.8" cy="980.8" r="0.8"/><circle cx="211.7" cy="983.9" r="0.8"/><circle cx="212.5" cy="984.1" r="0.8"/><circle cx="213.4" cy="987.3" r="0.8"/><circle cx="214.2" cy="986.3" r="0.8"/><circle cx="215.1" cy="986.9" r="0.8"/><circle cx="215.9" cy="989.3" r="0.8"/><circle cx="216.8" cy="987.9" r="0.8"/><circle cx="217.6" cy="987.9" r="0.8"/><circle cx="218.5" cy="990.3" r="0.8"/><circle cx="219.3" cy="988.6" r="0.8"/><circle cx="220.2" cy="991.4" r="0.8"/><circle cx="221.0" cy="995.5" r="0.8"/><circle cx="221.9" cy="1000.6" r="0.8"/><circle cx="222.7" cy="1003.9" r="0.8"/><circle cx="223.6" cy="1007.1" r="0.8"/><circle cx="224.4" cy="1011.0" r="0.8"/><circle cx="225.3" cy="1012.9" r="0.8"/><circle cx="226.1" cy="1011.8" r="0.8"/><circle cx="227.0" cy="1012.0" r="0.8"/><circle cx="227.8" cy="1010.3" r="0.8"/><circle cx="228.7" cy="1006.7" r="0.8"/><circle cx="229.5" cy="1005.4" r="0.8"/><circle cx="230.4" cy="999.6" r="0.8"/><circle cx="231.2" cy="997.0" r="0.8"/><circle cx="232.1" cy="993.4" r="0.8"/><circle cx="232.9" cy="990.8" r="0.8"/><circle cx="233.8" cy="988.2" r="0.8"/><circle cx="234.6" cy="987.9" r="0.8"/><circle cx="235.5" cy="986.1" r="0.8"/><circle cx="236.3" cy="988.1" r="0.8"/><circle cx="237.2" cy="991.1" r="0.8"/><circle cx="238.0" cy="989.5" r="0.8"/><circle cx="238.9" cy="993.8" r="0.8"/><circle cx="239.7" cy="992.1" r="0.8"/><circle cx="240.6" cy="995.9" r="0.8"/><circle cx="241.4" cy="995.2" r="0.8"/><circle cx="242.3" cy="997.9" r="0.8"/><circle cx="243.1" cy="998.1" r="0.8"/><circle cx="244.0" cy="997.1" r="0.8"/><circle cx="244.8" cy="1000.9" r="0.8"/><circle cx="245.7" cy="1001.9" r="0.8"/><circle cx="246.5" cy="1001.1" r="0.8"/><circle cx="247.4" cy="1001.9" r="0.8"/><circle cx="248.2" cy="1003.3" r="0.8"/><circle cx="249.1" cy="1003.9" r="0.8"/><circle cx="249.9" cy="1007.7" r="0.8"/><circle cx="250.8" cy="1007.3" r="0.8"/><circle cx="251.6" cy="1009.1" r="0.8"/><circle cx="252.5" cy="1009.2" r="0.8"/><circle cx="253.3" cy="1009.8" r="0.8"/><circle cx="254.2" cy="1008.9" r="0.8"/><circle cx="255.0" cy="1010.8" r="0.8"/><circle cx="255.9" cy="1008.1" r="0.8"/><circle cx="256.7" cy="1007.9" r="0.8"/><circle cx="257.6" cy="1005.6" r="0.8"/><circle cx="258.4" cy="1003.7" r="0.8"/><circle cx="259.3" cy="1002.9" r="0.8"/><circle cx="260.1" cy="1001.5" r="0.8"/><circle cx="261.0" cy="1001.0" r="0.8"/><circle cx="261.8" cy="999.5" r="0.8"/><circle cx="262.7" cy="998.8" r="0.8"/><circle cx="263.5" cy="996.7" r="0.8"/><circle cx="264.4" cy="996.5" r="0.8"/><circle cx="265.2" cy="998.6" r="0.8"/><circle cx="266.1" cy="995.6" r="0.8"/><circle cx="266.9" cy="995.1" r="0.8"/><circle cx="267.8" cy="996.8" r="0.8"/><circle cx="268.6" cy="998.6" r="0.8"/><circle cx="269.5" cy="996.1" r="0.8"/><circle cx="270.3" cy="998.4" r="0.8"/><circle cx="271.2" cy="998.9" r="0.8"/><circle cx="272.0" cy="998.5" r="0.8"/><circle cx="272.9" cy="1002.1" r="0.8"/><circle cx="273.7" cy="1002.1" r="0.8"/><circle cx="274.6" cy="1003.0" r="0.8"/><circle cx="275.4" cy="1002.9" r="0.8"/><circle cx="276.3" cy="1005.1" r="0.8"/><circle cx="277.1" cy="1004.8" r="0.8"/><circle cx="278.0" cy="1005.9" r="0.8"/><circle cx="278.8" cy="1005.3" r="0.8"/><circle cx="279.7" cy="1005.6" r="0.8"/><circle cx="280.5" cy="1008.8" r="0.8"/><circle cx="281.4" cy="1007.1" r="0.8"/><circle cx="282.2" cy="1008.3" r="0.8"/><circle cx="283.1" cy="1008.1" r="0.8"/><circle cx="283.9" cy="1007.8" r="0.8"/><circle cx="284.8" cy="1007.7" r="0.8"/><circle cx="285.6" cy="1008.4" r="0.8"/><circle cx="286.5" cy="1006.5" r="0.8"/><circle cx="287.3" cy="1005.7" r="0.8"/><circle cx="288.2" cy="1004.7" r="0.8"/><circle cx="289.0" cy="1004.9" r="0.8"/><circle cx="289.9" cy="1003.5" r="0.8"/><circle cx="290.7" cy="1002.2" r="0.8"/><circle cx="291.6" cy="1000.1" r="0.8"/><circle cx="292.4" cy="998.2" r="0.8"/><circle cx="293.3" cy="999.8" r="0.8"/><circle cx="294.1" cy="999.2" r="0.8"/><circle cx="295.0" cy="997.6" r="0.8"/><circle cx="295.8" cy="998.4" r="0.8"/><circle cx="296.7" cy="998.9" r="0.8"/><circle cx="297.5" cy="999.4" r="0.8"/><circle cx="298.4" cy="1000.1" r="0.8"/><circle cx="299.2" cy="999.3" r="0.8"/><circle cx="300.1" cy="1002.1" r="0.8"/><circle cx="300.9" cy="999.7" r="0.8"/><circle cx="301.8" cy="1002.6" r="0.8"/><circle cx="302.6" cy="1002.7" r="0.8"/><circle cx="303.5" cy="1003.6" r="0.8"/><circle cx="304.3" cy="1005.3" r="0.8"/><circle cx="305.2" cy="1005.4" r="0.8"/><circle cx="306.0" cy="1003.1" r="0.8"/><circle cx="306.9" cy="1003.0" r="0.8"/><circle cx="307.7" cy="1006.3" r="0.8"/><circle cx="308.6" cy="1004.8" r="0.8"/><circle cx="309.4" cy="1006.3" r="0.8"/><circle cx="310.3" cy="1007.6" r="0.8"/><circle cx="311.1" cy="1005.1" r="0.8"/><circle cx="312.0" cy="1004.8" r="0.8"/><circle cx="312.8" cy="1007.5" r="0.8"/><circle cx="313.7" cy="1007.2" r="0.8"/><circle cx="314.5" cy="1006.8" r="0.8"/><circle cx="315.4" cy="1006.9" r="0.8"/><circle cx="316.2" cy="1005.8" r="0.8"/><circle cx="317.1" cy="1004.8" r="0.8"/><circle cx="317.9" cy="1006.0" r="0.8"/><circle cx="318.8" cy="1004.9" r="0.8"/><circle cx="319.6" cy="1003.9" r="0.8"/><circle cx="320.5" cy="1006.0" r="0.8"/><circle cx="321.3" cy="1005.2" r="0.8"/><circle cx="322.2" cy="1005.6" r="0.8"/><circle cx="323.0" cy="1003.9" r="0.8"/><circle cx="323.9" cy="1004.3" r="0.8"/><circle cx="324.7" cy="1003.9" r="0.8"/><circle cx="325.6" cy="1004.1" r="0.8"/><circle cx="326.4" cy="1005.4" r="0.8"/><circle cx="327.3" cy="1004.5" r="0.8"/><circle cx="328.1" cy="1005.9" r="0.8"/><circle cx="329.0" cy="1006.0" r="0.8"/><circle cx="329.8" cy="1008.1" r="0.8"/><circle cx="330.7" cy="1004.5" r="0.8"/><circle cx="331.5" cy="1007.1" r="0.8"/><circle cx="332.4" cy="1006.2" r="0.8"/><circle cx="333.2" cy="1006.4" r="0.8"/><circle cx="334.1" cy="1004.9" r="0.8"/><circle cx="334.9" cy="1006.0" r="0.8"/><circle cx="335.8" cy="1007.3" r="0.8"/><circle cx="336.6" cy="1006.3" r="0.8"/><circle cx="337.5" cy="1006.4" r="0.8"/><circle cx="338.3" cy="1005.9" r="0.8"/><circle cx="339.2" cy="1007.4" r="0.8"/><circle cx="340.0" cy="1005.9" r="0.8"/><circle cx="340.9" cy="1003.4" r="0.8"/><circle cx="341.7" cy="1004.9" r="0.8"/><circle cx="342.6" cy="1003.3" r="0.8"/><circle cx="343.4" cy="1001.7" r="0.8"/><circle cx="344.3" cy="1004.6" r="0.8"/><circle cx="345.1" cy="1006.5" r="0.8"/><circle cx="346.0" cy="1004.9" r="0.8"/><circle cx="346.8" cy="1003.4" r="0.8"/><circle cx="347.7" cy="1003.6" r="0.8"/><circle cx="348.5" cy="1005.8" r="0.8"/><circle cx="349.4" cy="1004.7" r="0.8"/><circle cx="350.2" cy="1004.6" r="0.8"/><circle cx="351.1" cy="1004.4" r="0.8"/><circle cx="351.9" cy="1004.6" r="0.8"/><circle cx="352.8" cy="1005.4" r="0.8"/><circle cx="353.6" cy="1005.2" r="0.8"/><circle cx="354.5" cy="1004.9" r="0.8"/><circle cx="355.3" cy="1003.5" r="0.8"/><circle cx="356.2" cy="1005.3" r="0.8"/><circle cx="357.0" cy="1004.0" r="0.8"/><circle cx="357.9" cy="1006.1" r="0.8"/><circle cx="358.7" cy="1003.6" r="0.8"/><circle cx="359.6" cy="1004.9" r="0.8"/><circle cx="360.4" cy="1005.2" r="0.8"/><circle cx="361.3" cy="1003.9" r="0.8"/><circle cx="362.1" cy="1007.3" r="0.8"/><circle cx="363.0" cy="1007.2" r="0.8"/><circle cx="363.8" cy="1005.3" r="0.8"/><circle cx="364.7" cy="1006.8" r="0.8"/><circle cx="365.0" cy="1006.1" r="0.8"/><circle cx="367.2" cy="1000.5" r="0.8"/><circle cx="369.4" cy="1005.9" r="0.8"/><circle cx="371.7" cy="1005.4" r="0.8"/><circle cx="373.9" cy="1005.7" r="0.8"/><circle cx="376.2" cy="1003.5" r="0.8"/><circle cx="378.5" cy="1005.1" r="0.8"/><circle cx="380.8" cy="1005.3" r="0.8"/><circle cx="383.1" cy="1008.0" r="0.8"/><circle cx="385.4" cy="1006.4" r="0.8"/><circle cx="387.8" cy="1005.8" r="0.8"/><circle cx="390.2" cy="1008.7" r="0.8"/><circle cx="392.6" cy="1004.8" r="0.8"/><circle cx="395.0" cy="1005.2" r="0.8"/><circle cx="397.4" cy="1002.5" r="0.8"/><circle cx="399.9" cy="1009.0" r="0.8"/><circle cx="402.3" cy="1007.9" r="0.8"/><circle cx="404.8" cy="1007.8" r="0.8"/><circle cx="407.3" cy="1007.4" r="0.8"/><circle cx="409.9" cy="1006.3" r="0.8"/><circle cx="412.4" cy="1006.6" r="0.8"/><circle cx="415.0" cy="1005.7" r="0.8"/><circle cx="417.6" cy="1005.9" r="0.8"/><circle cx="420.2" cy="1006.4" r="0.8"/><circle cx="422.8" cy="1009.2" r="0.8"/><circle cx="425.5" cy="1007.4" r="0.8"/><circle cx="428.1" cy="1006.3" r="0.8"/><circle cx="430.8" cy="1005.4" r="0.8"/><circle cx="433.5" cy="1005.3" r="0.8"/><circle cx="436.3" cy="1009.6" r="0.8"/><circle cx="439.0" cy="1007.6" r="0.8"/><circle cx="441.8" cy="1006.8" r="0.8"/><circle cx="444.6" cy="1006.0" r="0.8"/><circle cx="447.4" cy="1004.6" r="0.8"/><circle cx="450.2" cy="1006.6" r="0.8"/><circle cx="453.1" cy="1008.5" r="0.8"/><circle cx="456.0" cy="1006.1" r="0.8"/><circle cx="458.9" cy="1006.5" r="0.8"/><circle cx="461.8" cy="1006.5" r="0.8"/><circle cx="464.8" cy="1007.2" r="0.8"/><circle cx="467.8" cy="1004.0" r="0.8"/><circle cx="470.8" cy="1006.6" r="0.8"/><circle cx="473.8" cy="1005.5" r="0.8"/><circle cx="476.8" cy="1008.9" r="0.8"/><circle cx="479.9" cy="1005.8" r="0.8"/><circle cx="483.0" cy="1008.4" r="0.8"/><circle cx="486.1" cy="1010.2" r="0.8"/><circle cx="489.3" cy="1006.8" r="0.8"/><circle cx="492.4" cy="1006.3" r="0.8"/><circle cx="495.6" cy="1007.8" r="0.8"/><circle cx="498.8" cy="1007.5" r="0.8"/><circle cx="502.1" cy="1005.7" r="0.8"/><circle cx="505.3" cy="1008.5" r="0.8"/><circle cx="508.6" cy="1011.5" r="0.8"/><circle cx="511.9" cy="1007.2" r="0.8"/><circle cx="515.3" cy="1007.3" r="0.8"/><circle cx="518.7" cy="1005.8" r="0.8"/><circle cx="522.0" cy="1008.4" r="0.8"/><circle cx="525.5" cy="1005.5" r="0.8"/><circle cx="528.9" cy="1005.8" r="0.8"/><circle cx="532.4" cy="1010.4" r="0.8"/><circle cx="535.9" cy="1006.3" r="0.8"/><circle cx="539.4" cy="1010.1" r="0.8"/><circle cx="543.0" cy="1011.0" r="0.8"/><circle cx="546.6" cy="1008.6" r="0.8"/><circle cx="550.2" cy="1009.2" r="0.8"/><circle cx="553.8" cy="1011.9" r="0.8"/><circle cx="557.5" cy="1007.9" r="0.8"/><circle cx="561.2" cy="1007.2" r="0.8"/><circle cx="564.9" cy="1005.8" r="0.8"/><circle cx="568.7" cy="1008.5" r="0.8"/><circle cx="572.4" cy="1011.3" r="0.8"/><circle cx="576.3" cy="1010.3" r="0.8"/><circle cx="580.1" cy="1006.8" r="0.8"/><circle cx="584.0" cy="1007.0" r="0.8"/><circle cx="587.9" cy="1007.7" r="0.8"/><circle cx="591.8" cy="1009.3" r="0.8"/><circle cx="595.8" cy="1008.4" r="0.8"/><circle cx="599.8" cy="1009.2" r="0.8"/><circle cx="603.8" cy="1009.4" r="0.8"/><circle cx="607.9" cy="1008.3" r="0.8"/><circle cx="611.9" cy="1008.9" r="0.8"/><circle cx="616.1" cy="1009.4" r="0.8"/><circle cx="620.2" cy="1008.9" r="0.8"/><circle cx="624.4" cy="1010.1" r="0.8"/><circle cx="628.6" cy="1012.7" r="0.8"/><circle cx="632.9" cy="1010.3" r="0.8"/><circle cx="637.2" cy="1009.4" r="0.8"/><circle cx="641.5" cy="1006.1" r="0.8"/><circle cx="645.8" cy="1010.1" r="0.8"/><circle cx="650.2" cy="1005.7" r="0.8"/><circle cx="654.6" cy="1006.8" r="0.8"/><circle cx="659.1" cy="1011.2" r="0.8"/><circle cx="663.6" cy="1010.9" r="0.8"/><circle cx="668.1" cy="1009.4" r="0.8"/><circle cx="672.6" cy="1006.4" r="0.8"/><circle cx="677.2" cy="1009.0" r="0.8"/><circle cx="681.9" cy="1008.5" r="0.8"/><circle cx="686.5" cy="1011.1" r="0.8"/><circle cx="691.2" cy="1014.2" r="0.8"/><circle cx="696.0" cy="1010.4" r="0.8"/><circle cx="700.7" cy="1008.5" r="0.8"/><circle cx="705.6" cy="1007.9" r="0.8"/><circle cx="710.4" cy="1010.0" r="0.8"/><circle cx="715.3" cy="1009.9" r="0.8"/><circle cx="720.2" cy="1008.1" r="0.8"/>
</g>
<path d="M75.7 1198.9 L76.1 1199.0 L76.6 1199.0 L77.0 1199.1 L77.4 1199.1 L77.9 1199.2 L78.3 1199.2 L78.7 1199.3 L79.2 1199.3 L79.6 1199.4 L80.0 1199.4 L80.5 1199.5 L80.9 1199.5 L81.3 1199.6 L81.8 1199.6 L82.2 1199.7 L82.6 1199.7 L83.1 1199.8 L83.5 1199.8 L83.9 1199.9 L84.4 1199.9 L84.8 1200.0 L85.2 1200.0 L85.7 1200.1 L86.1 1200.1 L86.5 1200.1 L87.0 1200.2 L87.4 1200.2 L87.8 1200.3 L88.2 1200.3 L88.7 1200.4 L89.1 1200.4 L89.5 1200.5 L90.0 1200.5 L90.4 1200.5 L90.8 1200.6 L91.3 1200.6 L91.7 1200.7 L92.1 1200.7 L92.6 1200.8 L93.0 1200.8 L93.4 1200.9 L93.9 1200.9 L94.3 1201.0 L94.7 1201.0 L95.2 1201.1 L95.6 1201.1 L96.0 1201.2 L96.5 1201.2 L96.9 1201.3 L97.3 1201.3 L97.8 1201.4 L98.2 1201.4 L98.6 1201.4 L99.1 1201.5 L99.5 1201.5 L99.9 1201.6 L100.4 1201.6 L100.8 1201.6 L101.2 1201.7 L101.7 1201.7 L102.1 1201.7 L102.5 1201.7 L103.0 1201.8 L103.4 1201.8 L103.8 1201.8 L104.3 1201.8 L104.7 1201.8 L105.1 1201.8 L105.6 1201.8 L106.0 1201.8 L106.4 1201.8 L106.9 1201.8 L107.3 1201.8 L107.7 1201.8 L108.2 1201.8 L108.6 1201.8 L109.0 1201.8 L109.5 1201.8 L109.9 1201.8 L110.3 1201.8 L110.8 1201.8 L111.2 1201.8 L111.6 1201.7 L112.1 1201.7 L112.5 1201.7 L112.9 1201.7 L113.3 1201.7 L113.8 1201.7 L114.2 1201.7 L114.6 1201.7 L115.1 1201.7 L115.5 1201.7 L115.9 1201.7 L116.4 1201.7 L116.8 1201.6 L117.2 1201.6 L117.7 1201.6 L118.1 1201.6 L118.5 1201.6 L119.0 1201.6 L119.4 1201.6 L119.8 1201.6 L120.3 1201.6 L120.7 1201.6 L121.1 1201.5 L121.6 1201.5 L122.0 1201.5 L122.4 1201.5 L122.9 1201.5 L123.3 1201.5 L123.7 1201.5 L124.2 1201.5 L124.6 1201.4 L125.0 1201.4 L125.5 1201.4 L125.9 1201.4 L126.3 1201.4 L126.8 1201.4 L127.2 1201.4 L127.6 1201.4 L128.1 1201.4 L128.5 1201.3 L128.9 1201.3 L129.4 1201.3 L129.8 1201.3 L130.2 1201.3 L130.7 1201.3 L131.1 1201.3 L131.5 1201.3 L132.0 1201.2 L132.4 1201.2 L132.8 1201.2 L133.3 1201.2 L133.7 1201.2 L134.1 1201.2 L134.6 1201.2 L135.0 1201.2 L135.4 1201.2 L135.9 1201.2 L136.3 1201.1 L136.7 1201.1 L137.2 1201.1 L137.6 1201.1 L138.0 1201.1 L138.4 1201.1 L138.9 1201.1 L139.3 1201.1 L139.7 1201.1 L140.2 1201.0 L140.6 1201.0 L141.0 1201.0 L141.5 1201.0 L141.9 1201.0 L142.3 1201.0 L142.8 1201.0 L143.2 1201.0 L143.6 1200.9 L144.1 1200.9 L144.5 1200.9 L144.9 1200.9 L145.4 1200.9 L145.8 1200.9 L146.2 1200.9 L146.7 1200.8 L147.1 1200.8 L147.5 1200.8 L148.0 1200.8 L148.4 1200.8 L148.8 1200.8 L149.3 1200.7 L149.7 1200.7 L150.1 1200.7 L150.6 1200.7 L151.0 1200.7 L151.4 1200.7 L151.9 1200.6 L152.3 1200.6 L152.7 1200.6 L153.2 1200.6 L153.6 1200.6 L154.0 1200.5 L154.5 1200.5 L154.9 1200.5 L155.3 1200.5 L155.8 1200.5 L156.2 1200.4 L156.6 1200.4 L157.1 1200.4 L157.5 1200.4 L157.9 1200.3 L158.4 1200.3 L158.8 1200.3 L159.2 1200.3 L159.7 1200.2 L160.1 1200.2 L160.5 1200.2 L161.0 1200.1 L161.4 1200.1 L161.8 1200.1 L162.3 1200.1 L162.7 1200.0 L163.1 1200.0 L163.5 1200.0 L164.0 1199.9 L164.4 1199.9 L164.8 1199.8 L165.3 1199.7 L165.7 1199.7 L166.1 1199.6 L166.6 1199.5 L167.0 1199.5 L167.4 1199.4 L167.9 1199.3 L168.3 1199.2 L168.7 1199.1 L169.2 1199.0 L169.6 1198.9 L170.0 1198.8 L170.5 1198.7 L170.9 1198.6 L171.3 1198.5 L171.8 1198.4 L172.2 1198.2 L172.6 1198.1 L173.1 1198.0 L173.5 1197.9 L173.9 1197.7 L174.4 1197.6 L174.8 1197.4 L175.2 1197.2 L175.7 1197.0 L176.1 1196.8 L176.5 1196.5 L177.0 1196.3 L177.4 1196.0 L177.8 1195.7 L178.3 1195.3 L178.7 1194.8 L179.1 1194.3 L179.6 1193.6 L180.0 1192.9 L180.4 1192.1 L180.9 1191.2 L181.3 1190.1 L181.7 1188.6 L182.2 1186.9 L182.6 1184.6 L183.0 1181.1 L183.5 1176.6 L183.9 1171.5 L184.3 1164.6 L184.8 1152.2 L185.2 1134.5 L185.6 1117.0 L186.1 1098.8 L186.5 1081.2 L186.9 1063.4 L187.4 1044.1 L187.8 1027.3 L188.2 1015.2 L188.6 1009.1 L189.1 1005.5 L189.5 1003.8 L189.9 1002.7 L190.4 1002.0 L190.8 1001.4 L191.2 1001.0 L191.7 1000.6 L192.1 1000.3 L192.5 1000.0 L193.0 999.8 L193.4 999.6 L193.8 999.5 L194.3 999.3 L194.7 999.2 L195.1 999.1 L195.6 999.0 L196.0 998.9 L196.4 998.8 L196.9 998.7 L197.3 998.6 L197.7 998.5 L198.2 998.5 L198.6 998.4 L199.0 998.3 L199.5 998.3 L199.9 998.2 L200.3 998.1 L200.8 998.0 L201.2 998.0 L201.6 997.9 L202.1 997.8 L202.5 997.7 L202.9 997.7 L203.4 997.6 L203.8 997.6 L204.2 997.5 L204.7 997.5 L205.1 997.4 L205.5 997.4 L206.0 997.3 L206.4 997.3 L206.8 997.3 L207.3 997.3 L207.7 997.3 L208.1 997.3 L208.6 997.3 L209.0 997.3 L209.4 997.3 L209.9 997.3 L210.3 997.3 L210.7 997.3 L211.2 997.3 L211.6 997.3 L212.0 997.3 L212.5 997.3 L212.9 997.3 L213.3 997.4 L213.7 997.4 L214.2 997.4 L214.6 997.4 L215.0 997.4 L215.5 997.4 L215.9 997.4 L216.3 997.4 L216.8 997.4 L217.2 997.4 L217.6 997.4 L218.1 997.5 L218.5 997.5 L218.9 997.5 L219.4 997.5 L219.8 997.5 L220.2 997.5 L220.7 997.5 L221.1 997.5 L221.5 997.5 L222.0 997.6 L222.4 997.6 L222.8 997.6 L223.3 997.6 L223.7 997.6 L224.1 997.6 L224.6 997.7 L225.0 997.7 L225.4 997.7 L225.9 997.7 L226.3 997.7 L226.7 997.8 L227.2 997.8 L227.6 997.8 L228.0 997.8 L228.5 997.9 L228.9 997.9 L229.3 997.9 L229.8 997.9 L230.2 998.0 L230.6 998.0 L231.1 998.0 L231.5 998.1 L231.9 998.1 L232.4 998.1 L232.8 998.2 L233.2 998.2 L233.7 998.2 L234.1 998.3 L234.5 998.3 L235.0 998.3 L235.4 998.4 L235.8 998.4 L236.3 998.4 L236.7 998.5 L237.1 998.5 L237.6 998.5 L238.0 998.6 L238.4 998.6 L238.8 998.7 L239.3 998.7 L239.7 998.8 L240.1 998.9 L240.6 998.9 L241.0 999.0 L241.4 999.0 L241.9 999.1 L242.3 999.2 L242.7 999.2 L243.2 999.3 L243.6 999.4 L244.0 999.5 L244.5 999.5 L244.9 999.6 L245.3 999.7 L245.8 999.8 L246.2 999.8 L246.6 999.9 L247.1 1000.0 L247.5 1000.1 L247.9 1000.1 L248.4 1000.2 L248.8 1000.3 L249.2 1000.4 L249.7 1000.4 L250.1 1000.5 L250.5 1000.6 L251.0 1000.7 L251.4 1000.7 L251.8 1000.8 L252.3 1000.9 L252.7 1001.0 L253.1 1001.0 L253.6 1001.1 L254.0 1001.2 L254.4 1001.2 L254.9 1001.3 L255.3 1001.4 L255.7 1001.4 L256.2 1001.5 L256.6 1001.5 L257.0 1001.6 L257.5 1001.6 L257.9 1001.7 L258.3 1001.7 L258.8 1001.8 L259.2 1001.8 L259.6 1001.9 L260.1 1001.9 L260.5 1002.0 L260.9 1002.0 L261.4 1002.1 L261.8 1002.1 L262.2 1002.2 L262.7 1002.2 L263.1 1002.3 L263.5 1002.3 L263.9 1002.3 L264.4 1002.4 L264.8 1002.4 L265.2 1002.5 L265.7 1002.5 L266.1 1002.6 L266.5 1002.6 L267.0 1002.7 L267.4 1002.7 L267.8 1002.7 L268.3 1002.8 L268.7 1002.8 L269.1 1002.9 L269.6 1002.9 L270.0 1002.9 L270.4 1003.0 L270.9 1003.0 L271.3 1003.0 L271.7 1003.1 L272.2 1003.1 L272.6 1003.2 L273.0 1003.2 L273.5 1003.2 L273.9 1003.3 L274.3 1003.3 L274.8 1003.3 L275.2 1003.3 L275.6 1003.4 L276.1 1003.4 L276.5 1003.4 L276.9 1003.5 L277.4 1003.5 L277.8 1003.5 L278.2 1003.5 L278.7 1003.5 L279.1 1003.6 L279.5 1003.6 L280.0 1003.6 L280.4 1003.6 L280.8 1003.6 L281.3 1003.6 L281.7 1003.7 L282.1 1003.7 L282.6 1003.7 L283.0 1003.7 L283.4 1003.7 L283.9 1003.7 L284.3 1003.7 L284.7 1003.8 L285.2 1003.8 L285.6 1003.8 L286.0 1003.8 L286.5 1003.8 L286.9 1003.8 L287.3 1003.8 L287.8 1003.8 L288.2 1003.8 L288.6 1003.9 L289.0 1003.9 L289.5 1003.9 L289.9 1003.9 L290.3 1003.9 L290.8 1003.9 L291.2 1003.9 L291.6 1003.9 L292.1 1003.9 L292.5 1003.9 L292.9 1004.0 L293.4 1004.0 L293.8 1004.0 L294.2 1004.0 L294.7 1004.0 L295.1 1004.0 L295.5 1004.0 L296.0 1004.0 L296.4 1004.0 L296.8 1004.0 L297.3 1004.0 L297.7 1004.1 L298.1 1004.1 L298.6 1004.1 L299.0 1004.1 L299.4 1004.1 L299.9 1004.1 L300.3 1004.1 L300.7 1004.1 L301.2 1004.1 L301.6 1004.1 L302.0 1004.1 L302.5 1004.2 L302.9 1004.2 L303.3 1004.2 L303.8 1004.2 L304.2 1004.2 L304.6 1004.2 L305.1 1004.2 L305.5 1004.2 L305.9 1004.2 L306.4 1004.2 L306.8 1004.2 L307.2 1004.3 L307.7 1004.3 L308.1 1004.3 L308.5 1004.3 L309.0 1004.3 L309.4 1004.3 L309.8 1004.3 L310.3 1004.3 L310.7 1004.3 L311.1 1004.3 L311.6 1004.3 L312.0 1004.4 L312.4 1004.4 L312.8 1004.4 L313.3 1004.4 L313.7 1004.4 L314.1 1004.4 L314.6 1004.4 L315.0 1004.4 L315.4 1004.4 L315.9 1004.4 L316.3 1004.4 L316.7 1004.4 L317.2 1004.5 L317.6 1004.5 L318.0 1004.5 L318.5 1004.5 L318.9 1004.5 L319.3 1004.5 L319.8 1004.5 L320.2 1004.5 L320.6 1004.5 L321.1 1004.5 L321.5 1004.5 L321.9 1004.5 L322.4 1004.6 L322.8 1004.6 L323.2 1004.6 L323.7 1004.6 L324.1 1004.6 L324.5 1004.6 L325.0 1004.6 L325.4 1004.6 L325.8 1004.6 L326.3 1004.6 L326.7 1004.6 L327.1 1004.6 L327.6 1004.7 L328.0 1004.7 L328.4 1004.7 L328.9 1004.7 L329.3 1004.7 L329.7 1004.7 L330.2 1004.7 L330.6 1004.7 L331.0 1004.7 L331.5 1004.7 L331.9 1004.7 L332.3 1004.7 L332.8 1004.8 L333.2 1004.8 L333.6 1004.8 L334.1 1004.8 L334.5 1004.8 L334.9 1004.8 L335.4 1004.8 L335.8 1004.8 L336.2 1004.8 L336.7 1004.8 L337.1 1004.8 L337.5 1004.9 L337.9 1004.9 L338.4 1004.9 L338.8 1004.9 L339.2 1004.9 L339.7 1004.9 L340.1 1004.9 L340.5 1004.9 L341.0 1004.9 L341.4 1004.9 L341.8 1004.9 L342.3 1005.0 L342.7 1005.0 L343.1 1005.0 L343.6 1005.0 L344.0 1005.0 L344.4 1005.0 L344.9 1005.0 L345.3 1005.0 L345.7 1005.0 L346.2 1005.0 L346.6 1005.0 L347.0 1005.0 L347.5 1005.1 L347.9 1005.1 L348.3 1005.1 L348.8 1005.1 L349.2 1005.1 L349.6 1005.1 L350.1 1005.1 L350.5 1005.1 L350.9 1005.1 L351.4 1005.1 L351.8 1005.1 L352.2 1005.2 L352.7 1005.2 L353.1 1005.2 L353.5 1005.2 L354.0 1005.2 L354.4 1005.2 L354.8 1005.2 L355.3 1005.2 L355.7 1005.2 L356.1 1005.2 L356.6 1005.2 L357.0 1005.2 L357.4 1005.3 L357.9 1005.3 L358.3 1005.3 L358.7 1005.3 L359.2 1005.3 L359.6 1005.3 L360.0 1005.3 L360.5 1005.3 L360.9 1005.3 L361.3 1005.3 L361.8 1005.3 L362.2 1005.3 L362.6 1005.3 L363.0 1005.4 L363.5 1005.4 L363.9 1005.4 L364.3 1005.4 L364.8 1005.4 L365.2 1005.4 L365.6 1005.4 L366.1 1005.4 L366.5 1005.4 L366.9 1005.4 L367.4 1005.4 L367.8 1005.4 L368.2 1005.4 L368.7 1005.5 L369.1 1005.5 L369.5 1005.5 L370.0 1005.5 L370.4 1005.5 L370.8 1005.5 L371.3 1005.5 L371.7 1005.5 L372.1 1005.5 L372.6 1005.5 L373.0 1005.5 L373.4 1005.5 L373.9 1005.5 L374.3 1005.6 L374.7 1005.6 L375.2 1005.6 L375.6 1005.6 L376.0 1005.6 L376.5 1005.6 L376.9 1005.6 L377.3 1005.6 L377.8 1005.6 L378.2 1005.6 L378.6 1005.6 L379.1 1005.6 L379.5 1005.6 L379.9 1005.7 L380.4 1005.7 L380.8 1005.7 L381.2 1005.7 L381.7 1005.7 L382.1 1005.7 L382.5 1005.7 L383.0 1005.7 L383.4 1005.7 L383.8 1005.7 L384.3 1005.7 L384.7 1005.7 L385.1 1005.7 L385.6 1005.7 L386.0 1005.8 L386.4 1005.8 L386.9 1005.8 L387.3 1005.8 L387.7 1005.8 L388.1 1005.8 L388.6 1005.8 L389.0 1005.8 L389.4 1005.8 L389.9 1005.8 L390.3 1005.8 L390.7 1005.8 L391.2 1005.8 L391.6 1005.8 L392.0 1005.9 L392.5 1005.9 L392.9 1005.9 L393.3 1005.9 L393.8 1005.9 L394.2 1005.9 L394.6 1005.9 L395.1 1005.9 L395.5 1005.9 L395.9 1005.9 L396.4 1005.9 L396.8 1005.9 L397.2 1005.9 L397.7 1005.9 L398.1 1006.0 L398.5 1006.0 L399.0 1006.0 L399.4 1006.0 L399.8 1006.0 L400.3 1006.0 L400.7 1006.0 L401.1 1006.0 L401.6 1006.0 L402.0 1006.0 L402.4 1006.0 L402.9 1006.0 L403.3 1006.0 L403.7 1006.0 L404.2 1006.0 L404.6 1006.1 L405.0 1006.1 L405.5 1006.1 L405.9 1006.1 L406.3 1006.1 L406.8 1006.1 L407.2 1006.1 L407.6 1006.1 L408.1 1006.1 L408.5 1006.1 L408.9 1006.1 L409.4 1006.1 L409.8 1006.1 L410.2 1006.1 L410.7 1006.2 L411.1 1006.2 L411.5 1006.2 L412.0 1006.2 L412.4 1006.2 L412.8 1006.2 L413.2 1006.2 L413.7 1006.2 L414.1 1006.2 L414.5 1006.2 L415.0 1006.2 L415.4 1006.2 L415.8 1006.2 L416.3 1006.2 L416.7 1006.2 L417.1 1006.3 L417.6 1006.3 L418.0 1006.3 L418.4 1006.3 L418.9 1006.3 L419.3 1006.3 L419.7 1006.3 L420.2 1006.3 L420.6 1006.3 L421.0 1006.3 L421.5 1006.3 L421.9 1006.3 L422.3 1006.3 L422.8 1006.3 L423.2 1006.4 L423.6 1006.4 L424.1 1006.4 L424.5 1006.4 L424.9 1006.4 L425.4 1006.4 L425.8 1006.4 L426.2 1006.4 L426.7 1006.4 L427.1 1006.4 L427.5 1006.4 L428.0 1006.4 L428.4 1006.4 L428.8 1006.4 L429.3 1006.4 L429.7 1006.5 L430.1 1006.5 L430.6 1006.5 L431.0 1006.5 L431.4 1006.5 L431.9 1006.5 L432.3 1006.5 L432.7 1006.5 L433.2 1006.5 L433.6 1006.5 L434.0 1006.5 L434.5 1006.5 L434.9 1006.5 L435.3 1006.5 L435.8 1006.5 L436.2 1006.6 L436.6 1006.6 L437.1 1006.6 L437.5 1006.6 L437.9 1006.6 L438.3 1006.6 L438.8 1006.6 L439.2 1006.6 L439.6 1006.6 L440.1 1006.6 L440.5 1006.6 L440.9 1006.6 L441.4 1006.6 L441.8 1006.6 L442.2 1006.6 L442.7 1006.7 L443.1 1006.7 L443.5 1006.7 L444.0 1006.7 L444.4 1006.7 L444.8 1006.7 L445.3 1006.7 L445.7 1006.7 L446.1 1006.7 L446.6 1006.7 L447.0 1006.7 L447.4 1006.7 L447.9 1006.7 L448.3 1006.7 L448.7 1006.7 L449.2 1006.8 L449.6 1006.8 L450.0 1006.8 L450.5 1006.8 L450.9 1006.8 L451.3 1006.8 L451.8 1006.8 L452.2 1006.8 L452.6 1006.8 L453.1 1006.8 L453.5 1006.8 L453.9 1006.8 L454.4 1006.8 L454.8 1006.8 L455.2 1006.8 L455.7 1006.9 L456.1 1006.9 L456.5 1006.9 L457.0 1006.9 L457.4 1006.9 L457.8 1006.9 L458.3 1006.9 L458.7 1006.9 L459.1 1006.9 L459.6 1006.9 L460.0 1006.9 L460.4 1006.9 L460.9 1006.9 L461.3 1006.9 L461.7 1006.9 L462.2 1007.0 L462.6 1007.0 L463.0 1007.0 L463.4 1007.0 L463.9 1007.0 L464.3 1007.0 L464.7 1007.0 L465.2 1007.0 L465.6 1007.0 L466.0 1007.0 L466.5 1007.0 L466.9 1007.0 L467.3 1007.0 L467.8 1007.0 L468.2 1007.0 L468.6 1007.0 L469.1 1007.1 L469.5 1007.1 L469.9 1007.1 L470.4 1007.1 L470.8 1007.1 L471.2 1007.1 L471.7 1007.1 L472.1 1007.1 L472.5 1007.1 L473.0 1007.1 L473.4 1007.1 L473.8 1007.1 L474.3 1007.1 L474.7 1007.1 L475.1 1007.1 L475.6 1007.2 L476.0 1007.2 L476.4 1007.2 L476.9 1007.2 L477.3 1007.2 L477.7 1007.2 L478.2 1007.2 L478.6 1007.2 L479.0 1007.2 L479.5 1007.2 L479.9 1007.2 L480.3 1007.2 L480.8 1007.2 L481.2 1007.2 L481.6 1007.2 L482.1 1007.2 L482.5 1007.3 L482.9 1007.3 L483.4 1007.3 L483.8 1007.3 L484.2 1007.3 L484.7 1007.3 L485.1 1007.3 L485.5 1007.3 L486.0 1007.3 L486.4 1007.3 L486.8 1007.3 L487.3 1007.3 L487.7 1007.3 L488.1 1007.3 L488.5 1007.3 L489.0 1007.4 L489.4 1007.4 L489.8 1007.4 L490.3 1007.4 L490.7 1007.4 L491.1 1007.4 L491.6 1007.4 L492.0 1007.4 L492.4 1007.4 L492.9 1007.4 L493.3 1007.4 L493.7 1007.4 L494.2 1007.4 L494.6 1007.4 L495.0 1007.4 L495.5 1007.4 L495.9 1007.5 L496.3 1007.5 L496.8 1007.5 L497.2 1007.5 L497.6 1007.5 L498.1 1007.5 L498.5 1007.5 L498.9 1007.5 L499.4 1007.5 L499.8 1007.5 L500.2 1007.5 L500.7 1007.5 L501.1 1007.5 L501.5 1007.5 L502.0 1007.5 L502.4 1007.5 L502.8 1007.5 L503.3 1007.6 L503.7 1007.6 L504.1 1007.6 L504.6 1007.6 L505.0 1007.6 L505.4 1007.6 L505.9 1007.6 L506.3 1007.6 L506.7 1007.6 L507.2 1007.6 L507.6 1007.6 L508.0 1007.6 L508.5 1007.6 L508.9 1007.6 L509.3 1007.6 L509.8 1007.6 L510.2 1007.7 L510.6 1007.7 L511.1 1007.7 L511.5 1007.7 L511.9 1007.7 L512.3 1007.7 L512.8 1007.7 L513.2 1007.7 L513.6 1007.7 L514.1 1007.7 L514.5 1007.7 L514.9 1007.7 L515.4 1007.7 L515.8 1007.7 L516.2 1007.7 L516.7 1007.7 L517.1 1007.8 L517.5 1007.8 L518.0 1007.8 L518.4 1007.8 L518.8 1007.8 L519.3 1007.8 L519.7 1007.8 L520.1 1007.8 L520.6 1007.8 L521.0 1007.8 L521.4 1007.8 L521.9 1007.8 L522.3 1007.8 L522.7 1007.8 L523.2 1007.8 L523.6 1007.8 L524.0 1007.8 L524.5 1007.9 L524.9 1007.9 L525.3 1007.9 L525.8 1007.9 L526.2 1007.9 L526.6 1007.9 L527.1 1007.9 L527.5 1007.9 L527.9 1007.9 L528.4 1007.9 L528.8 1007.9 L529.2 1007.9 L529.7 1007.9 L530.1 1007.9 L530.5 1007.9 L531.0 1007.9 L531.4 1007.9 L531.8 1008.0 L532.3 1008.0 L532.7 1008.0 L533.1 1008.0 L533.6 1008.0 L534.0 1008.0 L534.4 1008.0 L534.9 1008.0 L535.3 1008.0 L535.7 1008.0 L536.2 1008.0 L536.6 1008.0 L537.0 1008.0 L537.4 1008.0 L537.9 1008.0 L538.3 1008.0 L538.7 1008.0 L539.2 1008.0 L539.6 1008.1 L540.0 1008.1 L540.5 1008.1 L540.9 1008.1 L541.3 1008.1 L541.8 1008.1 L542.2 1008.1 L542.6 1008.1 L543.1 1008.1 L543.5 1008.1 L543.9 1008.1 L544.4 1008.1 L544.8 1008.1 L545.2 1008.1 L545.7 1008.1 L546.1 1008.1 L546.5 1008.1 L547.0 1008.2 L547.4 1008.2 L547.8 1008.2 L548.3 1008.2 L548.7 1008.2 L549.1 1008.2 L549.6 1008.2 L550.0 1008.2 L550.4 1008.2 L550.9 1008.2 L551.3 1008.2 L551.7 1008.2 L552.2 1008.2 L552.6 1008.2 L553.0 1008.2 L553.5 1008.2 L553.9 1008.2 L554.3 1008.2 L554.8 1008.3 L555.2 1008.3 L555.6 1008.3 L556.1 1008.3 L556.5 1008.3 L556.9 1008.3 L557.4 1008.3 L557.8 1008.3 L558.2 1008.3 L558.7 1008.3 L559.1 1008.3 L559.5 1008.3 L560.0 1008.3 L560.4 1008.3 L560.8 1008.3 L561.3 1008.3 L561.7 1008.3 L562.1 1008.3 L562.5 1008.4 L563.0 1008.4 L563.4 1008.4 L563.8 1008.4 L564.3 1008.4 L564.7 1008.4 L565.1 1008.4 L565.6 1008.4 L566.0 1008.4 L566.4 1008.4 L566.9 1008.4 L567.3 1008.4 L567.7 1008.4 L568.2 1008.4 L568.6 1008.4 L569.0 1008.4 L569.5 1008.4 L569.9 1008.4 L570.3 1008.5 L570.8 1008.5 L571.2 1008.5 L571.6 1008.5 L572.1 1008.5 L572.5 1008.5 L572.9 1008.5 L573.4 1008.5 L573.8 1008.5 L574.2 1008.5 L574.7 1008.5 L575.1 1008.5 L575.5 1008.5 L576.0 1008.5 L576.4 1008.5 L576.8 1008.5 L577.3 1008.5 L577.7 1008.5 L578.1 1008.5 L578.6 1008.6 L579.0 1008.6 L579.4 1008.6 L579.9 1008.6 L580.3 1008.6 L580.7 1008.6 L581.2 1008.6 L581.6 1008.6 L582.0 1008.6 L582.5 1008.6 L582.9 1008.6 L583.3 1008.6 L583.8 1008.6 L584.2 1008.6 L584.6 1008.6 L585.1 1008.6 L585.5 1008.6 L585.9 1008.6 L586.4 1008.6 L586.8 1008.7 L587.2 1008.7 L587.6 1008.7 L588.1 1008.7 L588.5 1008.7 L588.9 1008.7 L589.4 1008.7 L589.8 1008.7 L590.2 1008.7 L590.7 1008.7 L591.1 1008.7 L591.5 1008.7 L592.0 1008.7 L592.4 1008.7 L592.8 1008.7 L593.3 1008.7 L593.7 1008.7 L594.1 1008.7 L594.6 1008.7 L595.0 1008.8 L595.4 1008.8 L595.9 1008.8 L596.3 1008.8 L596.7 1008.8 L597.2 1008.8 L597.6 1008.8 L598.0 1008.8 L598.5 1008.8 L598.9 1008.8 L599.3 1008.8 L599.8 1008.8 L600.2 1008.8 L600.6 1008.8 L601.1 1008.8 L601.5 1008.8 L601.9 1008.8 L602.4 1008.8 L602.8 1008.8 L603.2 1008.9 L603.7 1008.9 L604.1 1008.9 L604.5 1008.9 L605.0 1008.9 L605.4 1008.9 L605.8 1008.9 L606.3 1008.9 L606.7 1008.9 L607.1 1008.9 L607.6 1008.9 L608.0 1008.9 L608.4 1008.9 L608.9 1008.9 L609.3 1008.9 L609.7 1008.9 L610.2 1008.9 L610.6 1008.9 L611.0 1008.9 L611.5 1009.0 L611.9 1009.0 L612.3 1009.0 L612.7 1009.0 L613.2 1009.0 L613.6 1009.0 L614.0 1009.0 L614.5 1009.0 L614.9 1009.0 L615.3 1009.0 L615.8 1009.0 L616.2 1009.0 L616.6 1009.0 L617.1 1009.0 L617.5 1009.0 L617.9 1009.0 L618.4 1009.0 L618.8 1009.0 L619.2 1009.0 L619.7 1009.1 L620.1 1009.1 L620.5 1009.1 L621.0 1009.1 L621.4 1009.1 L621.8 1009.1 L622.3 1009.1 L622.7 1009.1 L623.1 1009.1 L623.6 1009.1 L624.0 1009.1 L624.4 1009.1 L624.9 1009.1 L625.3 1009.1 L625.7 1009.1 L626.2 1009.1 L626.6 1009.1 L627.0 1009.1 L627.5 1009.1 L627.9 1009.2 L628.3 1009.2 L628.8 1009.2 L629.2 1009.2 L629.6 1009.2 L630.1 1009.2 L630.5 1009.2 L630.9 1009.2 L631.4 1009.2 L631.8 1009.2 L632.2 1009.2 L632.7 1009.2 L633.1 1009.2 L633.5 1009.2 L634.0 1009.2 L634.4 1009.2 L634.8 1009.2 L635.3 1009.2 L635.7 1009.2 L636.1 1009.3 L636.6 1009.3 L637.0 1009.3 L637.4 1009.3 L637.8 1009.3 L638.3 1009.3 L638.7 1009.3 L639.1 1009.3 L639.6 1009.3 L640.0 1009.3 L640.4 1009.3 L640.9 1009.3 L641.3 1009.3 L641.7 1009.3 L642.2 1009.3 L642.6 1009.3 L643.0 1009.3 L643.5 1009.3 L643.9 1009.3 L644.3 1009.4 L644.8 1009.4 L645.2 1009.4 L645.6 1009.4 L646.1 1009.4 L646.5 1009.4 L646.9 1009.4 L647.4 1009.4 L647.8 1009.4 L648.2 1009.4 L648.7 1009.4 L649.1 1009.4 L649.5 1009.4 L650.0 1009.4 L650.4 1009.4 L650.8 1009.4 L651.3 1009.4 L651.7 1009.4 L652.1 1009.4 L652.6 1009.5 L653.0 1009.5 L653.4 1009.5 L653.9 1009.5 L654.3 1009.5 L654.7 1009.5 L655.2 1009.5 L655.6 1009.5 L656.0 1009.5 L656.5 1009.5 L656.9 1009.5 L657.3 1009.5 L657.8 1009.5 L658.2 1009.5 L658.6 1009.5 L659.1 1009.5 L659.5 1009.5 L659.9 1009.5 L660.4 1009.5 L660.8 1009.6 L661.2 1009.6 L661.7 1009.6 L662.1 1009.6 L662.5 1009.6 L662.9 1009.6 L663.4 1009.6 L663.8 1009.6 L664.2 1009.6 L664.7 1009.6 L665.1 1009.6 L665.5 1009.6 L666.0 1009.6 L666.4 1009.6 L666.8 1009.6 L667.3 1009.6 L667.7 1009.6 L668.1 1009.6 L668.6 1009.6 L669.0 1009.6 L669.4 1009.7 L669.9 1009.7 L670.3 1009.7 L670.7 1009.7 L671.2 1009.7 L671.6 1009.7 L672.0 1009.7 L672.5 1009.7 L672.9 1009.7 L673.3 1009.7 L673.8 1009.7 L674.2 1009.7 L674.6 1009.7 L675.1 1009.7 L675.5 1009.7 L675.9 1009.7 L676.4 1009.7 L676.8 1009.7 L677.2 1009.7 L677.7 1009.8 L678.1 1009.8 L678.5 1009.8 L679.0 1009.8 L679.4 1009.8 L679.8 1009.8 L680.3 1009.8 L680.7 1009.8 L681.1 1009.8 L681.6 1009.8 L682.0 1009.8 L682.4 1009.8 L682.9 1009.8 L683.3 1009.8 L683.7 1009.8 L684.2 1009.8 L684.6 1009.8 L685.0 1009.8 L685.5 1009.8 L685.9 1009.8 L686.3 1009.9 L686.8 1009.9 L687.2 1009.9 L687.6 1009.9 L688.0 1009.9 L688.5 1009.9 L688.9 1009.9 L689.3 1009.9 L689.8 1009.9 L690.2 1009.9 L690.6 1009.9 L691.1 1009.9 L691.5 1009.9 L691.9 1009.9 L692.4 1009.9 L692.8 1009.9 L693.2 1009.9 L693.7 1009.9 L694.1 1009.9 L694.5 1010.0 L695.0 1010.0 L695.4 1010.0 L695.8 1010.0 L696.3 1010.0 L696.7 1010.0 L697.1 1010.0 L697.6 1010.0 L698.0 1010.0 L698.4 1010.0 L698.9 1010.0 L699.3 1010.0 L699.7 1010.0 L700.2 1010.0 L700.6 1010.0 L701.0 1010.0 L701.5 1010.0 L701.9 1010.0 L702.3 1010.0 L702.8 1010.0 L703.2 1010.1 L703.6 1010.1 L704.1 1010.1 L704.5 1010.1 L704.9 1010.1 L705.4 1010.1 L705.8 1010.1 L706.2 1010.1 L706.7 1010.1 L707.1 1010.1 L707.5 1010.1 L708.0 1010.1 L708.4 1010.1 L708.8 1010.1 L709.3 1010.1 L709.7 1010.1 L710.1 1010.1 L710.6 1010.1 L711.0 1010.1 L711.4 1010.1 L711.9 1010.2 L712.3 1010.2 L712.7 1010.2 L713.1 1010.2 L713.6 1010.2 L714.0 1010.2 L714.4 1010.2 L714.9 1010.2 L715.3 1010.2 L715.7 1010.2 L716.2 1010.2 L716.6 1010.2 L717.0 1010.2 L717.5 1010.2 L717.9 1010.2 L718.3 1010.2 L718.8 1010.2 L719.2 1010.2 L719.6 1010.2 L720.1 1010.2 L720.5 1010.3 L720.9 1010.3 L721.4 1010.3 L721.8 1010.3 L722.2 1010.3 L722.7 1010.3 L723.1 1010.3 L723.5 1010.3 L724.0 1010.3 L724.4 1010.3" fill="none" stroke="#111" stroke-width="1.4" stroke-linejoin="round"/>
<path d="M75.7 994.0 L76.8 994.3 L77.9 994.6 L78.9 994.8 L80.0 995.1 L81.1 995.3 L82.2 995.5 L83.3 995.7 L84.4 995.9 L85.4 996.1 L86.5 996.2 L87.6 996.4 L88.7 996.5 L89.8 996.6 L90.9 996.8 L91.9 996.9 L93.0 997.0 L94.1 997.1 L95.2 997.2 L96.3 997.3 L97.4 997.4 L98.4 997.4 L99.5 997.5 L100.6 997.5 L101.7 997.6 L102.8 997.6 L103.9 997.7 L104.9 997.7 L106.0 997.7 L107.1 997.8 L108.2 997.8 L109.3 997.8 L110.4 997.9 L111.4 997.9 L112.5 997.9 L113.6 997.9 L114.7 998.0 L115.8 998.0 L116.9 998.0 L117.9 998.0 L119.0 998.0 L120.1 998.0 L121.2 998.0 L122.3 998.0 L123.4 998.0 L124.4 998.0 L125.5 998.0 L126.6 998.0 L127.7 998.0 L128.8 997.9 L129.8 997.9 L130.9 997.9 L132.0 997.9 L133.1 997.9 L134.2 997.9 L135.3 997.8 L136.3 997.8 L137.4 997.8 L138.5 997.8 L139.6 997.7 L140.7 997.7 L141.8 997.7 L142.8 997.7 L143.9 997.6 L145.0 997.6 L146.1 997.6 L147.2 997.6 L148.3 997.5 L149.3 997.5 L150.4 997.5 L151.5 997.5 L152.6 997.4 L153.7 997.4 L154.8 997.4 L155.8 997.4 L156.9 997.4 L158.0 997.3 L159.1 997.3 L160.2 997.3 L161.3 997.3 L162.3 997.3 L163.4 997.2 L164.5 997.2 L165.6 997.2 L166.7 997.2 L167.8 997.1 L168.8 997.1 L169.9 997.1 L171.0 997.1 L172.1 997.0 L173.2 997.0 L174.3 997.0 L175.3 997.0 L176.4 996.9 L177.5 996.9 L178.6 996.9 L179.7 996.9 L180.7 996.8 L181.8 996.8 L182.9 996.8 L184.0 996.8 L185.1 996.8 L186.2 996.7 L187.2 996.7 L188.3 996.7 L189.4 996.7 L190.5 996.7 L191.6 996.7 L192.7 996.6 L193.7 996.6 L194.8 996.6 L195.9 996.6 L197.0 996.6 L198.1 996.6 L199.2 996.6 L200.2 996.6 L201.3 996.6 L202.4 996.6 L203.5 996.6 L204.6 996.7 L205.7 996.7 L206.7 996.7 L207.8 996.8 L208.9 996.8 L210.0 996.8 L211.1 996.9 L212.2 996.9 L213.2 997.0 L214.3 997.0 L215.4 997.1 L216.5 997.1 L217.6 997.2 L218.7 997.2 L219.7 997.3 L220.8 997.3 L221.9 997.4 L223.0 997.5 L224.1 997.5 L225.2 997.6 L226.2 997.6 L227.3 997.7 L228.4 997.8 L229.5 997.9 L230.6 997.9 L231.6 998.0 L232.7 998.1 L233.8 998.2 L234.9 998.3 L236.0 998.4 L237.1 998.5 L238.1 998.6 L239.2 998.8 L240.3 998.9 L241.4 999.1 L242.5 999.2 L243.6 999.4 L244.6 999.6 L245.7 999.8 L246.8 1000.0 L247.9 1000.2 L249.0 1000.3 L250.1 1000.5 L251.1 1000.7 L252.2 1000.9 L253.3 1001.1 L254.4 1001.2 L255.5 1001.4 L256.6 1001.5 L257.6 1001.7 L258.7 1001.8 L259.8 1001.9 L260.9 1002.0 L262.0 1002.1 L263.1 1002.2 L264.1 1002.4 L265.2 1002.5 L266.3 1002.6 L267.4 1002.7 L268.5 1002.8 L269.6 1002.9 L270.6 1003.0 L271.7 1003.1 L272.8 1003.2 L273.9 1003.3 L275.0 1003.3 L276.0 1003.4 L277.1 1003.5 L278.2 1003.5 L279.3 1003.6 L280.4 1003.6 L281.5 1003.7 L282.5 1003.7 L283.6 1003.7 L284.7 1003.8 L285.8 1003.8 L286.9 1003.8 L288.0 1003.8 L289.0 1003.9 L290.1 1003.9 L291.2 1003.9 L292.3 1003.9 L293.4 1004.0 L294.5 1004.0 L295.5 1004.0 L296.6 1004.0 L297.7 1004.1 L298.8 1004.1 L299.9 1004.1 L301.0 1004.1 L302.0 1004.1 L303.1 1004.2 L304.2 1004.2 L305.3 1004.2 L306.4 1004.2 L307.5 1004.3 L308.5 1004.3 L309.6 1004.3 L310.7 1004.3 L311.8 1004.3 L312.9 1004.4 L314.0 1004.4 L315.0 1004.4 L316.1 1004.4 L317.2 1004.5 L318.3 1004.5 L319.4 1004.5 L320.5 1004.5 L321.5 1004.5 L322.6 1004.6 L323.7 1004.6 L324.8 1004.6 L325.9 1004.6 L326.9 1004.6 L328.0 1004.7 L329.1 1004.7 L330.2 1004.7 L331.3 1004.7 L332.4 1004.7 L333.4 1004.8 L334.5 1004.8 L335.6 1004.8 L336.7 1004.8 L337.8 1004.9 L338.9 1004.9 L339.9 1004.9 L341.0 1004.9 L342.1 1004.9 L343.2 1005.0 L344.3 1005.0 L345.4 1005.0 L346.4 1005.0 L347.5 1005.1 L348.6 1005.1 L349.7 1005.1 L350.8 1005.1 L351.9 1005.1 L352.9 1005.2 L354.0 1005.2 L355.1 1005.2 L356.2 1005.2 L357.3 1005.2 L358.4 1005.3 L359.4 1005.3 L360.5 1005.3 L361.6 1005.3 L362.7 1005.3 L363.8 1005.4 L364.9 1005.4 L365.9 1005.4 L367.0 1005.4 L368.1 1005.4 L369.2 1005.5 L370.3 1005.5 L371.4 1005.5 L372.4 1005.5 L373.5 1005.5 L374.6 1005.6 L375.7 1005.6 L376.8 1005.6 L377.8 1005.6 L378.9 1005.6 L380.0 1005.7 L381.1 1005.7 L382.2 1005.7 L383.3 1005.7 L384.3 1005.7 L385.4 1005.7 L386.5 1005.8 L387.6 1005.8 L388.7 1005.8 L389.8 1005.8 L390.8 1005.8 L391.9 1005.9 L393.0 1005.9 L394.1 1005.9 L395.2 1005.9 L396.3 1005.9 L397.3 1005.9 L398.4 1006.0 L399.5 1006.0 L400.6 1006.0 L401.7 1006.0 L402.8 1006.0 L403.8 1006.0 L404.9 1006.1 L406.0 1006.1 L407.1 1006.1 L408.2 1006.1 L409.3 1006.1 L410.3 1006.1 L411.4 1006.2 L412.5 1006.2 L413.6 1006.2 L414.7 1006.2 L415.8 1006.2 L416.8 1006.3 L417.9 1006.3 L419.0 1006.3 L420.1 1006.3 L421.2 1006.3 L422.3 1006.3 L423.3 1006.4 L424.4 1006.4 L425.5 1006.4 L426.6 1006.4 L427.7 1006.4 L428.7 1006.4 L429.8 1006.5 L430.9 1006.5 L432.0 1006.5 L433.1 1006.5 L434.2 1006.5 L435.2 1006.5 L436.3 1006.6 L437.4 1006.6 L438.5 1006.6 L439.6 1006.6 L440.7 1006.6 L441.7 1006.6 L442.8 1006.7 L443.9 1006.7 L445.0 1006.7 L446.1 1006.7 L447.2 1006.7 L448.2 1006.7 L449.3 1006.8 L450.4 1006.8 L451.5 1006.8 L452.6 1006.8 L453.7 1006.8 L454.7 1006.8 L455.8 1006.9 L456.9 1006.9 L458.0 1006.9 L459.1 1006.9 L460.2 1006.9 L461.2 1006.9 L462.3 1007.0 L463.4 1007.0 L464.5 1007.0 L465.6 1007.0 L466.7 1007.0 L467.7 1007.0 L468.8 1007.1 L469.9 1007.1 L471.0 1007.1 L472.1 1007.1 L473.2 1007.1 L474.2 1007.1 L475.3 1007.1 L476.4 1007.2 L477.5 1007.2 L478.6 1007.2 L479.6 1007.2 L480.7 1007.2 L481.8 1007.2 L482.9 1007.3 L484.0 1007.3 L485.1 1007.3 L486.1 1007.3 L487.2 1007.3 L488.3 1007.3 L489.4 1007.4 L490.5 1007.4 L491.6 1007.4 L492.6 1007.4 L493.7 1007.4 L494.8 1007.4 L495.9 1007.5 L497.0 1007.5 L498.1 1007.5 L499.1 1007.5 L500.2 1007.5 L501.3 1007.5 L502.4 1007.5 L503.5 1007.6 L504.6 1007.6 L505.6 1007.6 L506.7 1007.6 L507.8 1007.6 L508.9 1007.6 L510.0 1007.7 L511.1 1007.7 L512.1 1007.7 L513.2 1007.7 L514.3 1007.7 L515.4 1007.7 L516.5 1007.7 L517.6 1007.8 L518.6 1007.8 L519.7 1007.8 L520.8 1007.8 L521.9 1007.8 L523.0 1007.8 L524.1 1007.8 L525.1 1007.9 L526.2 1007.9 L527.3 1007.9 L528.4 1007.9 L529.5 1007.9 L530.5 1007.9 L531.6 1007.9 L532.7 1008.0 L533.8 1008.0 L534.9 1008.0 L536.0 1008.0 L537.0 1008.0 L538.1 1008.0 L539.2 1008.1 L540.3 1008.1 L541.4 1008.1 L542.5 1008.1 L543.5 1008.1 L544.6 1008.1 L545.7 1008.1 L546.8 1008.1 L547.9 1008.2 L549.0 1008.2 L550.0 1008.2 L551.1 1008.2 L552.2 1008.2 L553.3 1008.2 L554.4 1008.2 L555.5 1008.3 L556.5 1008.3 L557.6 1008.3 L558.7 1008.3 L559.8 1008.3 L560.9 1008.3 L562.0 1008.3 L563.0 1008.4 L564.1 1008.4 L565.2 1008.4 L566.3 1008.4 L567.4 1008.4 L568.5 1008.4 L569.5 1008.4 L570.6 1008.5 L571.7 1008.5 L572.8 1008.5 L573.9 1008.5 L574.9 1008.5 L576.0 1008.5 L577.1 1008.5 L578.2 1008.5 L579.3 1008.6 L580.4 1008.6 L581.4 1008.6 L582.5 1008.6 L583.6 1008.6 L584.7 1008.6 L585.8 1008.6 L586.9 1008.7 L587.9 1008.7 L589.0 1008.7 L590.1 1008.7 L591.2 1008.7 L592.3 1008.7 L593.4 1008.7 L594.4 1008.7 L595.5 1008.8 L596.6 1008.8 L597.7 1008.8 L598.8 1008.8 L599.9 1008.8 L600.9 1008.8 L602.0 1008.8 L603.1 1008.9 L604.2 1008.9 L605.3 1008.9 L606.4 1008.9 L607.4 1008.9 L608.5 1008.9 L609.6 1008.9 L610.7 1008.9 L611.8 1009.0 L612.9 1009.0 L613.9 1009.0 L615.0 1009.0 L616.1 1009.0 L617.2 1009.0 L618.3 1009.0 L619.4 1009.1 L620.4 1009.1 L621.5 1009.1 L622.6 1009.1 L623.7 1009.1 L624.8 1009.1 L625.8 1009.1 L626.9 1009.1 L628.0 1009.2 L629.1 1009.2 L630.2 1009.2 L631.3 1009.2 L632.3 1009.2 L633.4 1009.2 L634.5 1009.2 L635.6 1009.2 L636.7 1009.3 L637.8 1009.3 L638.8 1009.3 L639.9 1009.3 L641.0 1009.3 L642.1 1009.3 L643.2 1009.3 L644.3 1009.4 L645.3 1009.4 L646.4 1009.4 L647.5 1009.4 L648.6 1009.4 L649.7 1009.4 L650.8 1009.4 L651.8 1009.4 L652.9 1009.5 L654.0 1009.5 L655.1 1009.5 L656.2 1009.5 L657.3 1009.5 L658.3 1009.5 L659.4 1009.5 L660.5 1009.5 L661.6 1009.6 L662.7 1009.6 L663.8 1009.6 L664.8 1009.6 L665.9 1009.6 L667.0 1009.6 L668.1 1009.6 L669.2 1009.7 L670.3 1009.7 L671.3 1009.7 L672.4 1009.7 L673.5 1009.7 L674.6 1009.7 L675.7 1009.7 L676.7 1009.7 L677.8 1009.8 L678.9 1009.8 L680.0 1009.8 L681.1 1009.8 L682.2 1009.8 L683.2 1009.8 L684.3 1009.8 L685.4 1009.8 L686.5 1009.9 L687.6 1009.9 L688.7 1009.9 L689.7 1009.9 L690.8 1009.9 L691.9 1009.9 L693.0 1009.9 L694.1 1009.9 L695.2 1010.0 L696.2 1010.0 L697.3 1010.0 L698.4 1010.0 L699.5 1010.0 L700.6 1010.0 L701.7 1010.0 L702.7 1010.0 L703.8 1010.1 L704.9 1010.1 L706.0 1010.1 L707.1 1010.1 L708.2 1010.1 L709.2 1010.1 L710.3 1010.1 L711.4 1010.1 L712.5 1010.2 L713.6 1010.2 L714.7 1010.2 L715.7 1010.2 L716.8 1010.2 L717.9 1010.2 L719.0 1010.2 L720.1 1010.2 L721.2 1010.3 L722.2 1010.3 L723.3 1010.3 L724.4 1010.3" fill="none" stroke="#3333c8" stroke-width="1.4" stroke-dasharray="1.3 1.5"/>
<path d="M330.2 1004.7 L331.3 1004.7 L332.4 1004.7 L333.4 1004.8 L334.5 1004.8 L335.6 1004.8 L336.7 1004.8 L337.8 1004.9 L338.9 1004.9 L339.9 1004.9 L341.0 1004.9 L342.1 1004.9 L343.2 1005.0 L344.3 1005.0 L345.4 1005.0 L346.4 1005.0 L347.5 1005.1 L348.6 1005.1 L349.7 1005.1 L350.8 1005.1 L351.9 1005.1 L352.9 1005.2 L354.0 1005.2 L355.1 1005.2 L356.2 1005.2 L357.3 1005.2 L358.4 1005.3 L359.4 1005.3 L360.5 1005.3 L361.6 1005.3 L362.7 1005.3 L363.8 1005.4 L364.9 1005.4 L365.9 1005.4 L367.0 1005.4 L368.1 1005.4 L369.2 1005.5 L370.3 1005.5 L371.4 1005.5 L372.4 1005.5 L373.5 1005.5 L374.6 1005.6 L375.7 1005.6 L376.8 1005.6 L377.8 1005.6 L378.9 1005.6 L380.0 1005.7 L381.1 1005.7 L382.2 1005.7 L383.3 1005.7 L384.3 1005.7 L385.4 1005.7 L386.5 1005.8 L387.6 1005.8 L388.7 1005.8 L389.8 1005.8 L390.8 1005.8 L391.9 1005.9 L393.0 1005.9 L394.1 1005.9 L395.2 1005.9 L396.3 1005.9 L397.3 1005.9 L398.4 1006.0 L399.5 1006.0 L400.6 1006.0 L401.7 1006.0 L402.8 1006.0 L403.8 1006.0 L404.9 1006.1 L406.0 1006.1 L407.1 1006.1 L408.2 1006.1 L409.3 1006.1 L410.3 1006.1 L411.4 1006.2 L412.5 1006.2 L413.6 1006.2 L414.7 1006.2 L415.8 1006.2 L416.8 1006.3 L417.9 1006.3 L419.0 1006.3 L420.1 1006.3 L421.2 1006.3 L422.3 1006.3 L423.3 1006.4 L424.4 1006.4 L425.5 1006.4 L426.6 1006.4 L427.7 1006.4 L428.7 1006.4 L429.8 1006.5 L430.9 1006.5 L432.0 1006.5 L433.1 1006.5 L434.2 1006.5 L435.2 1006.5 L436.3 1006.6 L437.4 1006.6 L438.5 1006.6 L439.6 1006.6 L440.7 1006.6 L441.7 1006.6 L442.8 1006.7 L443.9 1006.7 L445.0 1006.7 L446.1 1006.7 L447.2 1006.7 L448.2 1006.7 L449.3 1006.8 L450.4 1006.8 L451.5 1006.8 L452.6 1006.8 L453.7 1006.8 L454.7 1006.8 L455.8 1006.9 L456.9 1006.9 L458.0 1006.9 L459.1 1006.9 L460.2 1006.9 L461.2 1006.9 L462.3 1007.0 L463.4 1007.0 L464.5 1007.0 L465.6 1007.0 L466.7 1007.0 L467.7 1007.0 L468.8 1007.1 L469.9 1007.1 L471.0 1007.1 L472.1 1007.1 L473.2 1007.1 L474.2 1007.1 L475.3 1007.1 L476.4 1007.2 L477.5 1007.2 L478.6 1007.2 L479.6 1007.2 L480.7 1007.2 L481.8 1007.2 L482.9 1007.3 L484.0 1007.3 L485.1 1007.3 L486.1 1007.3 L487.2 1007.3 L488.3 1007.3 L489.4 1007.4 L490.5 1007.4 L491.6 1007.4 L492.6 1007.4 L493.7 1007.4 L494.8 1007.4 L495.9 1007.5 L497.0 1007.5 L498.1 1007.5 L499.1 1007.5 L500.2 1007.5 L501.3 1007.5 L502.4 1007.5 L503.5 1007.6 L504.6 1007.6 L505.6 1007.6 L506.7 1007.6 L507.8 1007.6 L508.9 1007.6 L510.0 1007.7 L511.1 1007.7 L512.1 1007.7 L513.2 1007.7 L514.3 1007.7 L515.4 1007.7 L516.5 1007.7 L517.6 1007.8 L518.6 1007.8 L519.7 1007.8 L520.8 1007.8 L521.9 1007.8 L523.0 1007.8 L524.1 1007.8 L525.1 1007.9 L526.2 1007.9 L527.3 1007.9 L528.4 1007.9 L529.5 1007.9 L530.5 1007.9 L531.6 1007.9 L532.7 1008.0 L533.8 1008.0 L534.9 1008.0 L536.0 1008.0 L537.0 1008.0 L538.1 1008.0 L539.2 1008.1 L540.3 1008.1 L541.4 1008.1 L542.5 1008.1 L543.5 1008.1 L544.6 1008.1 L545.7 1008.1 L546.8 1008.1 L547.9 1008.2 L549.0 1008.2 L550.0 1008.2 L551.1 1008.2 L552.2 1008.2 L553.3 1008.2 L554.4 1008.2 L555.5 1008.3 L556.5 1008.3 L557.6 1008.3 L558.7 1008.3 L559.8 1008.3 L560.9 1008.3 L562.0 1008.3 L563.0 1008.4 L564.1 1008.4 L565.2 1008.4 L566.3 1008.4 L567.4 1008.4 L568.5 1008.4 L569.5 1008.4 L570.6 1008.5 L571.7 1008.5 L572.8 1008.5 L573.9 1008.5 L574.9 1008.5 L576.0 1008.5 L577.1 1008.5 L578.2 1008.5 L579.3 1008.6 L580.4 1008.6 L581.4 1008.6 L582.5 1008.6 L583.6 1008.6 L584.7 1008.6 L585.8 1008.6 L586.9 1008.7 L587.9 1008.7 L589.0 1008.7 L590.1 1008.7 L591.2 1008.7 L592.3 1008.7 L593.4 1008.7 L594.4 1008.7 L595.5 1008.8 L596.6 1008.8 L597.7 1008.8 L598.8 1008.8 L599.9 1008.8 L600.9 1008.8 L602.0 1008.8 L603.1 1008.9 L604.2 1008.9 L605.3 1008.9 L606.4 1008.9 L607.4 1008.9 L608.5 1008.9 L609.6 1008.9 L610.7 1008.9 L611.8 1009.0 L612.9 1009.0 L613.9 1009.0 L615.0 1009.0 L616.1 1009.0 L617.2 1009.0 L618.3 1009.0 L619.4 1009.1 L620.4 1009.1 L621.5 1009.1 L622.6 1009.1 L623.7 1009.1 L624.8 1009.1 L625.8 1009.1 L626.9 1009.1 L628.0 1009.2 L629.1 1009.2 L630.2 1009.2 L631.3 1009.2 L632.3 1009.2 L633.4 1009.2 L634.5 1009.2 L635.6 1009.2 L636.7 1009.3 L637.8 1009.3 L638.8 1009.3 L639.9 1009.3 L641.0 1009.3 L642.1 1009.3 L643.2 1009.3 L644.3 1009.4 L645.3 1009.4 L646.4 1009.4 L647.5 1009.4 L648.6 1009.4 L649.7 1009.4 L650.8 1009.4 L651.8 1009.4 L652.9 1009.5 L654.0 1009.5 L655.1 1009.5 L656.2 1009.5 L657.3 1009.5 L658.3 1009.5 L659.4 1009.5 L660.5 1009.5 L661.6 1009.6 L662.7 1009.6 L663.8 1009.6 L664.8 1009.6 L665.9 1009.6 L667.0 1009.6 L668.1 1009.6 L669.2 1009.7 L670.3 1009.7 L671.3 1009.7 L672.4 1009.7 L673.5 1009.7 L674.6 1009.7 L675.7 1009.7 L676.7 1009.7 L677.8 1009.8 L678.9 1009.8 L680.0 1009.8 L681.1 1009.8 L682.2 1009.8 L683.2 1009.8 L684.3 1009.8 L685.4 1009.8 L686.5 1009.9 L687.6 1009.9 L688.7 1009.9 L689.7 1009.9 L690.8 1009.9 L691.9 1009.9 L693.0 1009.9 L694.1 1009.9 L695.2 1010.0 L696.2 1010.0 L697.3 1010.0 L698.4 1010.0 L699.5 1010.0 L700.6 1010.0 L701.7 1010.0 L702.7 1010.0 L703.8 1010.1 L704.9 1010.1 L706.0 1010.1 L707.1 1010.1 L708.2 1010.1 L709.2 1010.1 L710.3 1010.1 L711.4 1010.1 L712.5 1010.2 L713.6 1010.2 L714.7 1010.2 L715.7 1010.2 L716.8 1010.2 L717.9 1010.2 L719.0 1010.2 L720.1 1010.2 L721.2 1010.3 L722.2 1010.3 L723.3 1010.3 L724.4 1010.3" fill="none" stroke="#3a3aa8" stroke-width="1.2" opacity="0.75"/>
<path d="M75.7 1198.9 L76.8 1199.0 L77.9 1199.2 L78.9 1199.3 L80.0 1199.4 L81.1 1199.5 L82.2 1199.7 L83.3 1199.8 L84.4 1199.9 L85.4 1200.0 L86.5 1200.1 L87.6 1200.3 L88.7 1200.4 L89.8 1200.5 L90.9 1200.6 L91.9 1200.7 L93.0 1200.8 L94.1 1201.0 L95.2 1201.1 L96.3 1201.2 L97.4 1201.3 L98.4 1201.4 L99.5 1201.5 L100.6 1201.6 L101.7 1201.7 L102.8 1201.8 L103.9 1201.8 L104.9 1201.8 L106.0 1201.8 L107.1 1201.8 L108.2 1201.8 L109.3 1201.8 L110.4 1201.8 L111.4 1201.7 L112.5 1201.7 L113.6 1201.7 L114.7 1201.7 L115.8 1201.7 L116.9 1201.6 L117.9 1201.6 L119.0 1201.6 L120.1 1201.6 L121.2 1201.5 L122.3 1201.5 L123.4 1201.5 L124.4 1201.4 L125.5 1201.4 L126.6 1201.4 L127.7 1201.4 L128.8 1201.3 L129.8 1201.3 L130.9 1201.3 L132.0 1201.2 L133.1 1201.2 L134.2 1201.2 L135.3 1201.1 L136.3 1201.1 L137.4 1201.1 L138.5 1201.0 L139.6 1201.0 L140.7 1200.9 L141.8 1200.9 L142.8 1200.8 L143.9 1200.8 L145.0 1200.8 L146.1 1200.7 L147.2 1200.7 L148.3 1200.6 L149.3 1200.6 L150.4 1200.6 L151.5 1200.5 L152.6 1200.5 L153.7 1200.4 L154.8 1200.4 L155.8 1200.4 L156.9 1200.4 L158.0 1200.3 L159.1 1200.3 L160.2 1200.3 L161.3 1200.3 L162.3 1200.3 L163.4 1200.3 L164.5 1200.3 L165.6 1200.3 L166.7 1200.3 L167.8 1200.3 L168.8 1200.3 L169.9 1200.3 L171.0 1200.3 L172.1 1200.3 L173.2 1200.3 L174.3 1200.3 L175.3 1200.3 L176.4 1200.3 L177.5 1200.3 L178.6 1200.3 L179.7 1200.3 L180.7 1200.3 L181.8 1200.3 L182.9 1200.3 L184.0 1200.3 L185.1 1200.3 L186.2 1200.3 L187.2 1200.3 L188.3 1200.3 L189.4 1200.3 L190.5 1200.3 L191.6 1200.3 L192.7 1200.3 L193.7 1200.3 L194.8 1200.3 L195.9 1200.3 L197.0 1200.3 L198.1 1200.3 L199.2 1200.3 L200.2 1200.3 L201.3 1200.3 L202.4 1200.3 L203.5 1200.4 L204.6 1200.4 L205.7 1200.4 L206.7 1200.4 L207.8 1200.4 L208.9 1200.4 L210.0 1200.4 L211.1 1200.4 L212.2 1200.4 L213.2 1200.5 L214.3 1200.5 L215.4 1200.5 L216.5 1200.5 L217.6 1200.5 L218.7 1200.6 L219.7 1200.6 L220.8 1200.7 L221.9 1200.8 L223.0 1200.9 L224.1 1201.0 L225.2 1201.1 L226.2 1201.2 L227.3 1201.4 L228.4 1201.5 L229.5 1201.6 L230.6 1201.8 L231.6 1201.9 L232.7 1202.0 L233.8 1202.2 L234.9 1202.3 L236.0 1202.4 L237.1 1202.5 L238.1 1202.7 L239.2 1202.8 L240.3 1202.9 L241.4 1203.1 L242.5 1203.2 L243.6 1203.3 L244.6 1203.5 L245.7 1203.6 L246.8 1203.8 L247.9 1203.9 L249.0 1204.0 L250.1 1204.2 L251.1 1204.3 L252.2 1204.4 L253.3 1204.6 L254.4 1204.7 L255.5 1204.8 L256.6 1204.9 L257.6 1205.0 L258.7 1205.1 L259.8 1205.2 L260.9 1205.3 L262.0 1205.3 L263.1 1205.4 L264.1 1205.5 L265.2 1205.6 L266.3 1205.7 L267.4 1205.7 L268.5 1205.8 L269.6 1205.9 L270.6 1206.0 L271.7 1206.1 L272.8 1206.1 L273.9 1206.2 L275.0 1206.3 L276.0 1206.3 L277.1 1206.4 L278.2 1206.5 L279.3 1206.5 L280.4 1206.6 L281.5 1206.7 L282.5 1206.7 L283.6 1206.8 L284.7 1206.9 L285.8 1206.9 L286.9 1207.0 L288.0 1207.0 L289.0 1207.1 L290.1 1207.1 L291.2 1207.2 L292.3 1207.2 L293.4 1207.3 L294.5 1207.3 L295.5 1207.4 L296.6 1207.4 L297.7 1207.5 L298.8 1207.5 L299.9 1207.5 L301.0 1207.6 L302.0 1207.6 L303.1 1207.6 L304.2 1207.7 L305.3 1207.7 L306.4 1207.7 L307.5 1207.8 L308.5 1207.8 L309.6 1207.8 L310.7 1207.9 L311.8 1207.9 L312.9 1207.9 L314.0 1208.0 L315.0 1208.0 L316.1 1208.0 L317.2 1208.0 L318.3 1208.1 L319.4 1208.1 L320.5 1208.1 L321.5 1208.2 L322.6 1208.2 L323.7 1208.2 L324.8 1208.2 L325.9 1208.2 L326.9 1208.3 L328.0 1208.3 L329.1 1208.3 L330.2 1208.3 L331.3 1208.4 L332.4 1208.4 L333.4 1208.4 L334.5 1208.4 L335.6 1208.5 L336.7 1208.5 L337.8 1208.5 L338.9 1208.5 L339.9 1208.5 L341.0 1208.6 L342.1 1208.6 L343.2 1208.6 L344.3 1208.6 L345.4 1208.7 L346.4 1208.7 L347.5 1208.7 L348.6 1208.7 L349.7 1208.8 L350.8 1208.8 L351.9 1208.8 L352.9 1208.8 L354.0 1208.9 L355.1 1208.9 L356.2 1208.9 L357.3 1208.9 L358.4 1209.0 L359.4 1209.0 L360.5 1209.0 L361.6 1209.0 L362.7 1209.1 L363.8 1209.1 L364.9 1209.1 L365.9 1209.2 L367.0 1209.2 L368.1 1209.2 L369.2 1209.2 L370.3 1209.3 L371.4 1209.3 L372.4 1209.3 L373.5 1209.4 L374.6 1209.4 L375.7 1209.4 L376.8 1209.5 L377.8 1209.5 L378.9 1209.5 L380.0 1209.5 L381.1 1209.6 L382.2 1209.6 L383.3 1209.6 L384.3 1209.7 L385.4 1209.7 L386.5 1209.7 L387.6 1209.8 L388.7 1209.8 L389.8 1209.8 L390.8 1209.9 L391.9 1209.9 L393.0 1209.9 L394.1 1209.9 L395.2 1210.0 L396.3 1210.0 L397.3 1210.0 L398.4 1210.1 L399.5 1210.1 L400.6 1210.1 L401.7 1210.2 L402.8 1210.2 L403.8 1210.2 L404.9 1210.2 L406.0 1210.3 L407.1 1210.3 L408.2 1210.3 L409.3 1210.3 L410.3 1210.4 L411.4 1210.4 L412.5 1210.4 L413.6 1210.4 L414.7 1210.5 L415.8 1210.5 L416.8 1210.5 L417.9 1210.5 L419.0 1210.6 L420.1 1210.6 L421.2 1210.6 L422.3 1210.6 L423.3 1210.7 L424.4 1210.7 L425.5 1210.7 L426.6 1210.7 L427.7 1210.7 L428.7 1210.8 L429.8 1210.8 L430.9 1210.8 L432.0 1210.8 L433.1 1210.9 L434.2 1210.9 L435.2 1210.9 L436.3 1210.9 L437.4 1210.9 L438.5 1211.0 L439.6 1211.0 L440.7 1211.0 L441.7 1211.0 L442.8 1211.0 L443.9 1211.1 L445.0 1211.1 L446.1 1211.1 L447.2 1211.1 L448.2 1211.1 L449.3 1211.2 L450.4 1211.2 L451.5 1211.2 L452.6 1211.2 L453.7 1211.2 L454.7 1211.3 L455.8 1211.3 L456.9 1211.3 L458.0 1211.3 L459.1 1211.3 L460.2 1211.4 L461.2 1211.4 L462.3 1211.4 L463.4 1211.4 L464.5 1211.4 L465.6 1211.4 L466.7 1211.5 L467.7 1211.5 L468.8 1211.5 L469.9 1211.5 L471.0 1211.5 L472.1 1211.6 L473.2 1211.6 L474.2 1211.6 L475.3 1211.6 L476.4 1211.6 L477.5 1211.6 L478.6 1211.7 L479.6 1211.7 L480.7 1211.7 L481.8 1211.7 L482.9 1211.7 L484.0 1211.8 L485.1 1211.8 L486.1 1211.8 L487.2 1211.8 L488.3 1211.8 L489.4 1211.8 L490.5 1211.9 L491.6 1211.9 L492.6 1211.9 L493.7 1211.9 L494.8 1211.9 L495.9 1212.0 L497.0 1212.0 L498.1 1212.0 L499.1 1212.0 L500.2 1212.0 L501.3 1212.0 L502.4 1212.1 L503.5 1212.1 L504.6 1212.1 L505.6 1212.1 L506.7 1212.1 L507.8 1212.2 L508.9 1212.2 L510.0 1212.2 L511.1 1212.2 L512.1 1212.2 L513.2 1212.2 L514.3 1212.3 L515.4 1212.3 L516.5 1212.3 L517.6 1212.3 L518.6 1212.3 L519.7 1212.4 L520.8 1212.4 L521.9 1212.4 L523.0 1212.4 L524.1 1212.4 L525.1 1212.4 L526.2 1212.5 L527.3 1212.5 L528.4 1212.5 L529.5 1212.5 L530.5 1212.5 L531.6 1212.6 L532.7 1212.6 L533.8 1212.6 L534.9 1212.6 L536.0 1212.6 L537.0 1212.7 L538.1 1212.7 L539.2 1212.7 L540.3 1212.7 L541.4 1212.7 L542.5 1212.8 L543.5 1212.8 L544.6 1212.8 L545.7 1212.8 L546.8 1212.8 L547.9 1212.9 L549.0 1212.9 L550.0 1212.9 L551.1 1212.9 L552.2 1212.9 L553.3 1213.0 L554.4 1213.0 L555.5 1213.0 L556.5 1213.0 L557.6 1213.0 L558.7 1213.1 L559.8 1213.1 L560.9 1213.1 L562.0 1213.1 L563.0 1213.1 L564.1 1213.2 L565.2 1213.2 L566.3 1213.2 L567.4 1213.2 L568.5 1213.2 L569.5 1213.3 L570.6 1213.3 L571.7 1213.3 L572.8 1213.3 L573.9 1213.3 L574.9 1213.4 L576.0 1213.4 L577.1 1213.4 L578.2 1213.4 L579.3 1213.4 L580.4 1213.5 L581.4 1213.5 L582.5 1213.5 L583.6 1213.5 L584.7 1213.5 L585.8 1213.6 L586.9 1213.6 L587.9 1213.6 L589.0 1213.6 L590.1 1213.6 L591.2 1213.7 L592.3 1213.7 L593.4 1213.7 L594.4 1213.7 L595.5 1213.7 L596.6 1213.7 L597.7 1213.8 L598.8 1213.8 L599.9 1213.8 L600.9 1213.8 L602.0 1213.8 L603.1 1213.9 L604.2 1213.9 L605.3 1213.9 L606.4 1213.9 L607.4 1213.9 L608.5 1213.9 L609.6 1214.0 L610.7 1214.0 L611.8 1214.0 L612.9 1214.0 L613.9 1214.0 L615.0 1214.1 L616.1 1214.1 L617.2 1214.1 L618.3 1214.1 L619.4 1214.1 L620.4 1214.1 L621.5 1214.2 L622.6 1214.2 L623.7 1214.2 L624.8 1214.2 L625.8 1214.2 L626.9 1214.3 L628.0 1214.3 L629.1 1214.3 L630.2 1214.3 L631.3 1214.3 L632.3 1214.3 L633.4 1214.3 L634.5 1214.3 L635.6 1214.4 L636.7 1214.4 L637.8 1214.4 L638.8 1214.4 L639.9 1214.4 L641.0 1214.4 L642.1 1214.4 L643.2 1214.4 L644.3 1214.4 L645.3 1214.4 L646.4 1214.4 L647.5 1214.5 L648.6 1214.5 L649.7 1214.5 L650.8 1214.5 L651.8 1214.5 L652.9 1214.5 L654.0 1214.5 L655.1 1214.5 L656.2 1214.5 L657.3 1214.5 L658.3 1214.5 L659.4 1214.5 L660.5 1214.5 L661.6 1214.6 L662.7 1214.6 L663.8 1214.6 L664.8 1214.6 L665.9 1214.6 L667.0 1214.6 L668.1 1214.6 L669.2 1214.6 L670.3 1214.6 L671.3 1214.6 L672.4 1214.6 L673.5 1214.6 L674.6 1214.6 L675.7 1214.6 L676.7 1214.7 L677.8 1214.7 L678.9 1214.7 L680.0 1214.7 L681.1 1214.7 L682.2 1214.7 L683.2 1214.7 L684.3 1214.7 L685.4 1214.7 L686.5 1214.7 L687.6 1214.7 L688.7 1214.7 L689.7 1214.7 L690.8 1214.7 L691.9 1214.7 L693.0 1214.7 L694.1 1214.7 L695.2 1214.7 L696.2 1214.7 L697.3 1214.7 L698.4 1214.8 L699.5 1214.8 L700.6 1214.8 L701.7 1214.8 L702.7 1214.8 L703.8 1214.8 L704.9 1214.8 L706.0 1214.8 L707.1 1214.8 L708.2 1214.8 L709.2 1214.8 L710.3 1214.8 L711.4 1214.8 L712.5 1214.8 L713.6 1214.8 L714.7 1214.8 L715.7 1214.8 L716.8 1214.8 L717.9 1214.8 L719.0 1214.8 L720.1 1214.8 L721.2 1214.8 L722.2 1214.8 L723.3 1214.8 L724.4 1214.8" fill="none" stroke="#3333c8" stroke-width="1.4" stroke-dasharray="1.3 1.5"/>
<path d="M540.3 1212.7 L541.4 1212.7 L542.5 1212.8 L543.5 1212.8 L544.6 1212.8 L545.7 1212.8 L546.8 1212.8 L547.9 1212.9 L549.0 1212.9 L550.0 1212.9 L551.1 1212.9 L552.2 1212.9 L553.3 1213.0 L554.4 1213.0 L555.5 1213.0 L556.5 1213.0 L557.6 1213.0 L558.7 1213.1 L559.8 1213.1 L560.9 1213.1 L562.0 1213.1 L563.0 1213.1 L564.1 1213.2 L565.2 1213.2 L566.3 1213.2 L567.4 1213.2 L568.5 1213.2 L569.5 1213.3 L570.6 1213.3 L571.7 1213.3 L572.8 1213.3 L573.9 1213.3 L574.9 1213.4 L576.0 1213.4 L577.1 1213.4 L578.2 1213.4 L579.3 1213.4 L580.4 1213.5 L581.4 1213.5 L582.5 1213.5 L583.6 1213.5 L584.7 1213.5 L585.8 1213.6 L586.9 1213.6 L587.9 1213.6 L589.0 1213.6 L590.1 1213.6 L591.2 1213.7 L592.3 1213.7 L593.4 1213.7 L594.4 1213.7 L595.5 1213.7 L596.6 1213.7 L597.7 1213.8 L598.8 1213.8 L599.9 1213.8 L600.9 1213.8 L602.0 1213.8 L603.1 1213.9 L604.2 1213.9 L605.3 1213.9 L606.4 1213.9 L607.4 1213.9 L608.5 1213.9 L609.6 1214.0 L610.7 1214.0 L611.8 1214.0 L612.9 1214.0 L613.9 1214.0 L615.0 1214.1 L616.1 1214.1 L617.2 1214.1 L618.3 1214.1 L619.4 1214.1 L620.4 1214.1 L621.5 1214.2 L622.6 1214.2 L623.7 1214.2 L624.8 1214.2 L625.8 1214.2 L626.9 1214.3 L628.0 1214.3 L629.1 1214.3 L630.2 1214.3 L631.3 1214.3 L632.3 1214.3 L633.4 1214.3 L634.5 1214.3 L635.6 1214.4 L636.7 1214.4 L637.8 1214.4 L638.8 1214.4 L639.9 1214.4 L641.0 1214.4 L642.1 1214.4 L643.2 1214.4 L644.3 1214.4 L645.3 1214.4 L646.4 1214.4 L647.5 1214.5 L648.6 1214.5 L649.7 1214.5 L650.8 1214.5 L651.8 1214.5 L652.9 1214.5 L654.0 1214.5 L655.1 1214.5 L656.2 1214.5 L657.3 1214.5 L658.3 1214.5 L659.4 1214.5 L660.5 1214.5 L661.6 1214.6 L662.7 1214.6 L663.8 1214.6 L664.8 1214.6 L665.9 1214.6 L667.0 1214.6 L668.1 1214.6 L669.2 1214.6 L670.3 1214.6 L671.3 1214.6 L672.4 1214.6 L673.5 1214.6 L674.6 1214.6 L675.7 1214.6 L676.7 1214.7 L677.8 1214.7 L678.9 1214.7 L680.0 1214.7 L681.1 1214.7 L682.2 1214.7 L683.2 1214.7 L684.3 1214.7 L685.4 1214.7 L686.5 1214.7 L687.6 1214.7 L688.7 1214.7 L689.7 1214.7 L690.8 1214.7 L691.9 1214.7 L693.0 1214.7 L694.1 1214.7 L695.2 1214.7 L696.2 1214.7 L697.3 1214.7 L698.4 1214.8 L699.5 1214.8 L700.6 1214.8 L701.7 1214.8 L702.7 1214.8 L703.8 1214.8 L704.9 1214.8 L706.0 1214.8 L707.1 1214.8 L708.2 1214.8 L709.2 1214.8 L710.3 1214.8 L711.4 1214.8 L712.5 1214.8 L713.6 1214.8 L714.7 1214.8 L715.7 1214.8 L716.8 1214.8 L717.9 1214.8 L719.0 1214.8 L720.1 1214.8 L721.2 1214.8 L722.2 1214.8 L723.3 1214.8 L724.4 1214.8" fill="none" stroke="#3a3aa8" stroke-width="1.1" opacity="0.7"/>
</g>
</svg>
</body>
</html>
